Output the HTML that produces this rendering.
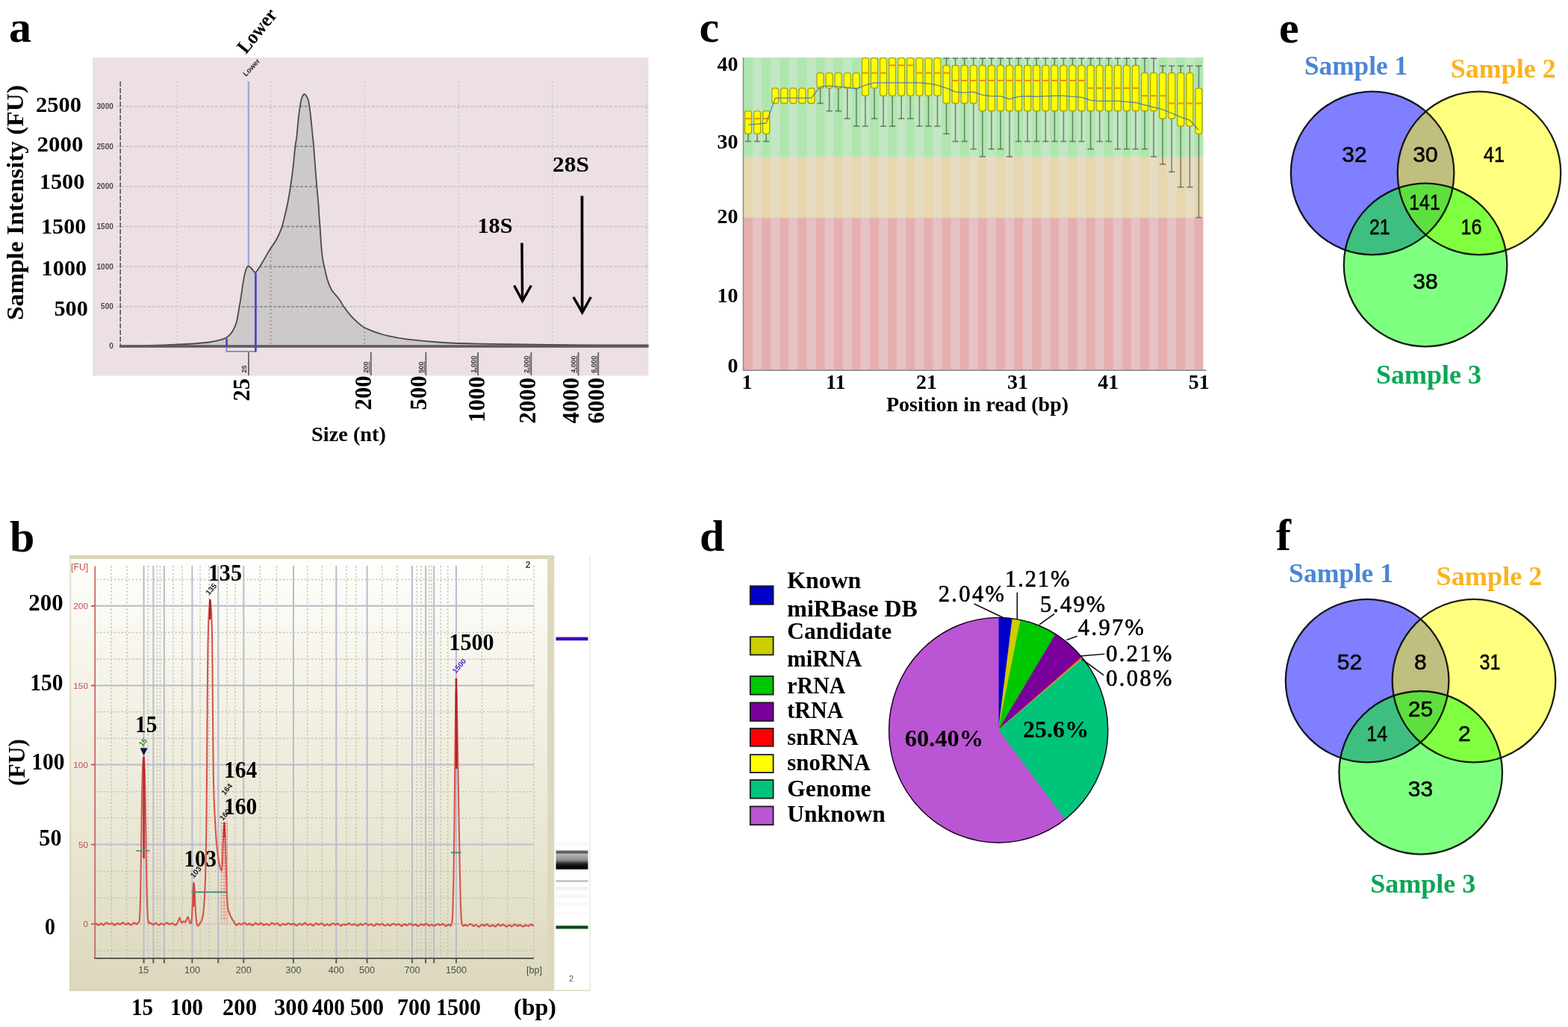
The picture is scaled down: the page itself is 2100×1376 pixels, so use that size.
<!DOCTYPE html>
<html lang="en">
<head>
<meta charset="utf-8">
<title>Figure</title>
<style>
html,body{margin:0;padding:0;background:#fff;}
body{width:2100px;height:1376px;overflow:hidden;}
svg{display:block;filter:blur(0.4px);}
text{white-space:pre;}
</style>
</head>
<body>
<svg width="2100" height="1376" viewBox="0 0 2100 1376">
<rect x="0" y="0" width="2100" height="1376" fill="#ffffff"/>
<g id="panel-a">
<text x="12" y="56.2" font-family="'Liberation Serif', serif" font-size="60" fill="#000" font-weight="bold">a</text>
<rect x="124" y="77" width="744.5" height="426.5" fill="#ece0e2"/>
<line x1="156" y1="142.6" x2="868" y2="142.6" stroke="#cfc3c6" stroke-width="1.6" stroke-dasharray="4 2"/>
<line x1="156" y1="196.1" x2="868" y2="196.1" stroke="#cfc3c6" stroke-width="1.6" stroke-dasharray="4 2"/>
<line x1="156" y1="249.8" x2="868" y2="249.8" stroke="#cfc3c6" stroke-width="1.6" stroke-dasharray="4 2"/>
<line x1="156" y1="303.5" x2="868" y2="303.5" stroke="#cfc3c6" stroke-width="1.6" stroke-dasharray="4 2"/>
<line x1="156" y1="357.3" x2="868" y2="357.3" stroke="#cfc3c6" stroke-width="1.6" stroke-dasharray="4 2"/>
<line x1="156" y1="410.9" x2="868" y2="410.9" stroke="#cfc3c6" stroke-width="1.6" stroke-dasharray="4 2"/>
<line x1="237" y1="109" x2="237" y2="463" stroke="#d3c8cb" stroke-width="1.6" stroke-dasharray="2 3"/>
<line x1="362.6" y1="109" x2="362.6" y2="463" stroke="#d3c8cb" stroke-width="1.6" stroke-dasharray="2 3"/>
<line x1="488.3" y1="109" x2="488.3" y2="463" stroke="#d3c8cb" stroke-width="1.6" stroke-dasharray="2 3"/>
<line x1="614.3" y1="109" x2="614.3" y2="463" stroke="#d3c8cb" stroke-width="1.6" stroke-dasharray="2 3"/>
<line x1="739.8" y1="109" x2="739.8" y2="463" stroke="#d3c8cb" stroke-width="1.6" stroke-dasharray="2 3"/>
<line x1="866" y1="109" x2="866" y2="463" stroke="#d3c8cb" stroke-width="1.6" stroke-dasharray="2 3"/>
<line x1="161.2" y1="109" x2="161.2" y2="464" stroke="#5a5557" stroke-width="1.6" stroke-dasharray="7 2"/>
<path d="M161 463.6C167.5 463.5 186.83 463.35 200 463C213.17 462.65 229.17 462 240 461.5C250.83 461 258.33 460.5 265 460C271.67 459.5 275.67 459.1 280 458.5C284.33 457.9 287.55 457.22 291 456.4C294.45 455.58 298.17 454.63 300.7 453.6C303.23 452.57 304.35 451.92 306.2 450.2C308.05 448.48 310.07 446.3 311.8 443.3C313.53 440.3 315.23 437.03 316.6 432.2C317.97 427.37 318.97 420.05 320 414.3C321.03 408.55 321.87 403.68 322.8 397.7C323.73 391.72 324.57 384.27 325.6 378.4C326.63 372.53 327.85 366.18 329 362.5C330.15 358.82 331.17 356.72 332.5 356.3C333.83 355.88 335.52 358.58 337 360C338.48 361.42 339.98 364.63 341.4 364.8C342.82 364.97 343.77 363.33 345.5 361C347.23 358.67 349.13 355.27 351.8 350.8C354.47 346.33 358.5 339.03 361.5 334.2C364.5 329.37 367.27 326.4 369.8 321.8C372.33 317.2 374.83 311.73 376.7 306.6C378.57 301.47 379.53 296.93 381 291C382.47 285.07 384.15 277.87 385.5 271C386.85 264.13 387.93 257.58 389.1 249.8C390.27 242.02 391.47 233.15 392.5 224.3C393.53 215.45 394.48 203.6 395.3 196.7C396.12 189.8 396.6 189.82 397.4 182.9C398.2 175.98 399.1 163.35 400.1 155.2C401.1 147.05 402.25 138.83 403.4 134C404.55 129.17 405.82 127.03 407 126.2C408.18 125.37 409.45 127.38 410.5 129C411.55 130.62 412.38 131.53 413.3 135.9C414.22 140.27 415.08 147.37 416 155.2C416.92 163.03 418.1 175.98 418.8 182.9C419.5 189.82 419.63 189.8 420.2 196.7C420.77 203.6 421.52 215.45 422.2 224.3C422.88 233.15 423.6 241.75 424.3 249.8C425 257.85 425.87 265.9 426.4 272.6C426.93 279.3 427.13 284.8 427.5 290C427.87 295.2 428.2 298.05 428.6 303.8C429 309.55 429.35 317.6 429.9 324.5C430.45 331.4 431.1 339.45 431.9 345.2C432.7 350.95 433.55 353.93 434.7 359C435.85 364.07 437.2 370.65 438.8 375.6C440.4 380.55 441.77 384.55 444.3 388.7C446.83 392.85 451.23 396.7 454 400.5C456.77 404.3 458.13 407.6 460.9 411.5C463.67 415.4 466.68 419.75 470.6 423.9C474.52 428.05 479.8 433.17 484.4 436.4C489 439.63 492.22 441 498.2 443.3C504.18 445.6 512.33 448.32 520.3 450.2C528.27 452.08 533.72 453.13 546 454.6C558.28 456.07 578 457.98 594 459C610 460.02 618.03 460.2 642 460.7C665.97 461.2 700.05 461.7 737.8 462C775.55 462.3 846.72 462.42 868.5 462.5 L868.5 464 L161 464 Z" fill="#cdc8ca"/>
<clipPath id="ca"><path d="M161 463.6C167.5 463.5 186.83 463.35 200 463C213.17 462.65 229.17 462 240 461.5C250.83 461 258.33 460.5 265 460C271.67 459.5 275.67 459.1 280 458.5C284.33 457.9 287.55 457.22 291 456.4C294.45 455.58 298.17 454.63 300.7 453.6C303.23 452.57 304.35 451.92 306.2 450.2C308.05 448.48 310.07 446.3 311.8 443.3C313.53 440.3 315.23 437.03 316.6 432.2C317.97 427.37 318.97 420.05 320 414.3C321.03 408.55 321.87 403.68 322.8 397.7C323.73 391.72 324.57 384.27 325.6 378.4C326.63 372.53 327.85 366.18 329 362.5C330.15 358.82 331.17 356.72 332.5 356.3C333.83 355.88 335.52 358.58 337 360C338.48 361.42 339.98 364.63 341.4 364.8C342.82 364.97 343.77 363.33 345.5 361C347.23 358.67 349.13 355.27 351.8 350.8C354.47 346.33 358.5 339.03 361.5 334.2C364.5 329.37 367.27 326.4 369.8 321.8C372.33 317.2 374.83 311.73 376.7 306.6C378.57 301.47 379.53 296.93 381 291C382.47 285.07 384.15 277.87 385.5 271C386.85 264.13 387.93 257.58 389.1 249.8C390.27 242.02 391.47 233.15 392.5 224.3C393.53 215.45 394.48 203.6 395.3 196.7C396.12 189.8 396.6 189.82 397.4 182.9C398.2 175.98 399.1 163.35 400.1 155.2C401.1 147.05 402.25 138.83 403.4 134C404.55 129.17 405.82 127.03 407 126.2C408.18 125.37 409.45 127.38 410.5 129C411.55 130.62 412.38 131.53 413.3 135.9C414.22 140.27 415.08 147.37 416 155.2C416.92 163.03 418.1 175.98 418.8 182.9C419.5 189.82 419.63 189.8 420.2 196.7C420.77 203.6 421.52 215.45 422.2 224.3C422.88 233.15 423.6 241.75 424.3 249.8C425 257.85 425.87 265.9 426.4 272.6C426.93 279.3 427.13 284.8 427.5 290C427.87 295.2 428.2 298.05 428.6 303.8C429 309.55 429.35 317.6 429.9 324.5C430.45 331.4 431.1 339.45 431.9 345.2C432.7 350.95 433.55 353.93 434.7 359C435.85 364.07 437.2 370.65 438.8 375.6C440.4 380.55 441.77 384.55 444.3 388.7C446.83 392.85 451.23 396.7 454 400.5C456.77 404.3 458.13 407.6 460.9 411.5C463.67 415.4 466.68 419.75 470.6 423.9C474.52 428.05 479.8 433.17 484.4 436.4C489 439.63 492.22 441 498.2 443.3C504.18 445.6 512.33 448.32 520.3 450.2C528.27 452.08 533.72 453.13 546 454.6C558.28 456.07 578 457.98 594 459C610 460.02 618.03 460.2 642 460.7C665.97 461.2 700.05 461.7 737.8 462C775.55 462.3 846.72 462.42 868.5 462.5 L868.5 464 L161 464 Z"/></clipPath>
<g clip-path="url(#ca)">
<line x1="156" y1="142.6" x2="868" y2="142.6" stroke="#8f8a8c" stroke-width="1.8" stroke-dasharray="4 2"/>
<line x1="156" y1="196.1" x2="868" y2="196.1" stroke="#8f8a8c" stroke-width="1.8" stroke-dasharray="4 2"/>
<line x1="156" y1="249.8" x2="868" y2="249.8" stroke="#8f8a8c" stroke-width="1.8" stroke-dasharray="4 2"/>
<line x1="156" y1="303.5" x2="868" y2="303.5" stroke="#8f8a8c" stroke-width="1.8" stroke-dasharray="4 2"/>
<line x1="156" y1="357.3" x2="868" y2="357.3" stroke="#8f8a8c" stroke-width="1.8" stroke-dasharray="4 2"/>
<line x1="156" y1="410.9" x2="868" y2="410.9" stroke="#8f8a8c" stroke-width="1.8" stroke-dasharray="4 2"/>
<line x1="362.6" y1="109" x2="362.6" y2="463" stroke="#9a9597" stroke-width="1.8" stroke-dasharray="2 3"/>
<line x1="488.3" y1="109" x2="488.3" y2="463" stroke="#9a9597" stroke-width="1.8" stroke-dasharray="2 3"/>
</g>
<path d="M161 463.6C167.5 463.5 186.83 463.35 200 463C213.17 462.65 229.17 462 240 461.5C250.83 461 258.33 460.5 265 460C271.67 459.5 275.67 459.1 280 458.5C284.33 457.9 287.55 457.22 291 456.4C294.45 455.58 298.17 454.63 300.7 453.6C303.23 452.57 304.35 451.92 306.2 450.2C308.05 448.48 310.07 446.3 311.8 443.3C313.53 440.3 315.23 437.03 316.6 432.2C317.97 427.37 318.97 420.05 320 414.3C321.03 408.55 321.87 403.68 322.8 397.7C323.73 391.72 324.57 384.27 325.6 378.4C326.63 372.53 327.85 366.18 329 362.5C330.15 358.82 331.17 356.72 332.5 356.3C333.83 355.88 335.52 358.58 337 360C338.48 361.42 339.98 364.63 341.4 364.8C342.82 364.97 343.77 363.33 345.5 361C347.23 358.67 349.13 355.27 351.8 350.8C354.47 346.33 358.5 339.03 361.5 334.2C364.5 329.37 367.27 326.4 369.8 321.8C372.33 317.2 374.83 311.73 376.7 306.6C378.57 301.47 379.53 296.93 381 291C382.47 285.07 384.15 277.87 385.5 271C386.85 264.13 387.93 257.58 389.1 249.8C390.27 242.02 391.47 233.15 392.5 224.3C393.53 215.45 394.48 203.6 395.3 196.7C396.12 189.8 396.6 189.82 397.4 182.9C398.2 175.98 399.1 163.35 400.1 155.2C401.1 147.05 402.25 138.83 403.4 134C404.55 129.17 405.82 127.03 407 126.2C408.18 125.37 409.45 127.38 410.5 129C411.55 130.62 412.38 131.53 413.3 135.9C414.22 140.27 415.08 147.37 416 155.2C416.92 163.03 418.1 175.98 418.8 182.9C419.5 189.82 419.63 189.8 420.2 196.7C420.77 203.6 421.52 215.45 422.2 224.3C422.88 233.15 423.6 241.75 424.3 249.8C425 257.85 425.87 265.9 426.4 272.6C426.93 279.3 427.13 284.8 427.5 290C427.87 295.2 428.2 298.05 428.6 303.8C429 309.55 429.35 317.6 429.9 324.5C430.45 331.4 431.1 339.45 431.9 345.2C432.7 350.95 433.55 353.93 434.7 359C435.85 364.07 437.2 370.65 438.8 375.6C440.4 380.55 441.77 384.55 444.3 388.7C446.83 392.85 451.23 396.7 454 400.5C456.77 404.3 458.13 407.6 460.9 411.5C463.67 415.4 466.68 419.75 470.6 423.9C474.52 428.05 479.8 433.17 484.4 436.4C489 439.63 492.22 441 498.2 443.3C504.18 445.6 512.33 448.32 520.3 450.2C528.27 452.08 533.72 453.13 546 454.6C558.28 456.07 578 457.98 594 459C610 460.02 618.03 460.2 642 460.7C665.97 461.2 700.05 461.7 737.8 462C775.55 462.3 846.72 462.42 868.5 462.5" fill="none" stroke="#4c4a4b" stroke-width="1.8" stroke-linejoin="round"/>
<line x1="160" y1="464" x2="868.5" y2="464" stroke="#5d5859" stroke-width="3.4"/>
<line x1="332.9" y1="109" x2="332.9" y2="356" stroke="#a3a4dd" stroke-width="2.4"/>
<path d="M303.4 453.5 V470.8 H342.4" fill="none" stroke="#7e80d6" stroke-width="1.8"/>
<line x1="303.6" y1="453.5" x2="303.6" y2="465" stroke="#4b4bbd" stroke-width="2.6"/>
<line x1="342.4" y1="365.5" x2="342.4" y2="471.5" stroke="#4b4bbd" stroke-width="2.8"/>
<line x1="332.9" y1="472" x2="332.9" y2="503" stroke="#5e5a5b" stroke-width="1.7"/>
<text x="329.8" y="499.5" font-family="'Liberation Sans', sans-serif" font-size="9" fill="#3a3a3a" transform="rotate(-90 329.8 499.5)" font-weight="bold">25</text>
<line x1="496.8" y1="472" x2="496.8" y2="503" stroke="#5e5a5b" stroke-width="1.7"/>
<text x="493.2" y="499.8" font-family="'Liberation Sans', sans-serif" font-size="9.3" fill="#3a3a3a" transform="rotate(-90 493.2 499.8)" font-weight="bold" text-decoration="underline">200</text>
<line x1="570.4" y1="472" x2="570.4" y2="503" stroke="#5e5a5b" stroke-width="1.7"/>
<text x="566.8" y="499.8" font-family="'Liberation Sans', sans-serif" font-size="9.3" fill="#3a3a3a" transform="rotate(-90 566.8 499.8)" font-weight="bold" text-decoration="underline">500</text>
<line x1="640.2" y1="472" x2="640.2" y2="503" stroke="#5e5a5b" stroke-width="1.7"/>
<text x="636.6" y="499.8" font-family="'Liberation Sans', sans-serif" font-size="9.3" fill="#3a3a3a" transform="rotate(-90 636.6 499.8)" font-weight="bold" text-decoration="underline">1,000</text>
<line x1="711.4" y1="472" x2="711.4" y2="503" stroke="#5e5a5b" stroke-width="1.7"/>
<text x="707.8" y="499.8" font-family="'Liberation Sans', sans-serif" font-size="9.3" fill="#3a3a3a" transform="rotate(-90 707.8 499.8)" font-weight="bold" text-decoration="underline">2,000</text>
<line x1="774.6" y1="472" x2="774.6" y2="503" stroke="#5e5a5b" stroke-width="1.7"/>
<text x="771" y="499.8" font-family="'Liberation Sans', sans-serif" font-size="9.3" fill="#3a3a3a" transform="rotate(-90 771 499.8)" font-weight="bold" text-decoration="underline">4,000</text>
<line x1="801.3" y1="472" x2="801.3" y2="503" stroke="#5e5a5b" stroke-width="1.7"/>
<text x="797.7" y="499.8" font-family="'Liberation Sans', sans-serif" font-size="9.3" fill="#3a3a3a" transform="rotate(-90 797.7 499.8)" font-weight="bold" text-decoration="underline">6,000</text>
<text x="151.8" y="146" font-family="'Liberation Sans', sans-serif" font-size="10" fill="#3a3a3a" text-anchor="end" font-weight="bold" opacity="0.9">3000</text>
<text x="151.8" y="199.5" font-family="'Liberation Sans', sans-serif" font-size="10" fill="#3a3a3a" text-anchor="end" font-weight="bold" opacity="0.9">2500</text>
<text x="151.8" y="253.2" font-family="'Liberation Sans', sans-serif" font-size="10" fill="#3a3a3a" text-anchor="end" font-weight="bold" opacity="0.9">2000</text>
<text x="151.8" y="306.9" font-family="'Liberation Sans', sans-serif" font-size="10" fill="#3a3a3a" text-anchor="end" font-weight="bold" opacity="0.9">1500</text>
<text x="151.8" y="360.7" font-family="'Liberation Sans', sans-serif" font-size="10" fill="#3a3a3a" text-anchor="end" font-weight="bold" opacity="0.9">1000</text>
<text x="151.8" y="414.3" font-family="'Liberation Sans', sans-serif" font-size="10" fill="#3a3a3a" text-anchor="end" font-weight="bold" opacity="0.9">500</text>
<text x="151.8" y="467.4" font-family="'Liberation Sans', sans-serif" font-size="10" fill="#3a3a3a" text-anchor="end" font-weight="bold" opacity="0.9">0</text>
<text x="329.5" y="103" font-family="'Liberation Sans', sans-serif" font-size="9.6" fill="#222" transform="rotate(-47 329.5 103)" font-weight="bold">Lower</text>
<text x="48" y="149.9" font-family="'Liberation Serif', serif" font-size="29.5" fill="#000" textLength="61" lengthAdjust="spacingAndGlyphs" font-weight="bold">2500</text>
<text x="49.6" y="203.4" font-family="'Liberation Serif', serif" font-size="29.5" fill="#000" textLength="61.9" lengthAdjust="spacingAndGlyphs" font-weight="bold">2000</text>
<text x="52.8" y="253.1" font-family="'Liberation Serif', serif" font-size="29.5" fill="#000" textLength="60.5" lengthAdjust="spacingAndGlyphs" font-weight="bold">1500</text>
<text x="55" y="312.9" font-family="'Liberation Serif', serif" font-size="29.5" fill="#000" textLength="60.3" lengthAdjust="spacingAndGlyphs" font-weight="bold">1500</text>
<text x="55.6" y="369.1" font-family="'Liberation Serif', serif" font-size="29.5" fill="#000" textLength="60.6" lengthAdjust="spacingAndGlyphs" font-weight="bold">1000</text>
<text x="72.4" y="423.1" font-family="'Liberation Serif', serif" font-size="29.5" fill="#000" textLength="45.4" lengthAdjust="spacingAndGlyphs" font-weight="bold">500</text>
<text x="31" y="429" font-family="'Liberation Serif', serif" font-size="30.5" fill="#000" transform="rotate(-90 31 429)" textLength="315" lengthAdjust="spacingAndGlyphs" font-weight="bold">Sample Intensity (FU)</text>
<text x="329.5" y="73.2" font-family="'Liberation Serif', serif" font-size="26.6" fill="#000" transform="rotate(-51 329.5 73.2)" textLength="68" lengthAdjust="spacingAndGlyphs" font-weight="bold">Lower</text>
<text x="333.5" y="537.5" font-family="'Liberation Serif', serif" font-size="30.5" fill="#000" transform="rotate(-90 333.5 537.5)" font-weight="bold">25</text>
<text x="497" y="549.5" font-family="'Liberation Serif', serif" font-size="30.8" fill="#000" transform="rotate(-90 497 549.5)" font-weight="bold">200</text>
<text x="571" y="549.5" font-family="'Liberation Serif', serif" font-size="30.8" fill="#000" transform="rotate(-90 571 549.5)" font-weight="bold">500</text>
<text x="649" y="566" font-family="'Liberation Serif', serif" font-size="30.8" fill="#000" transform="rotate(-90 649 566)" font-weight="bold">1000</text>
<text x="716.5" y="567.5" font-family="'Liberation Serif', serif" font-size="30.8" fill="#000" transform="rotate(-90 716.5 567.5)" font-weight="bold">2000</text>
<text x="775" y="567.5" font-family="'Liberation Serif', serif" font-size="30.8" fill="#000" transform="rotate(-90 775 567.5)" font-weight="bold">4000</text>
<text x="808.5" y="567.5" font-family="'Liberation Serif', serif" font-size="30.8" fill="#000" transform="rotate(-90 808.5 567.5)" font-weight="bold">6000</text>
<text x="417" y="591" font-family="'Liberation Serif', serif" font-size="27.5" fill="#000" textLength="100" lengthAdjust="spacingAndGlyphs" font-weight="bold">Size (nt)</text>
<text x="639.5" y="311.5" font-family="'Liberation Serif', serif" font-size="28.5" fill="#000" textLength="47" lengthAdjust="spacingAndGlyphs" font-weight="bold">18S</text>
<text x="740" y="230" font-family="'Liberation Serif', serif" font-size="28.5" fill="#000" textLength="49" lengthAdjust="spacingAndGlyphs" font-weight="bold">28S</text>
<path d="M699 325.5 L699.6 401" stroke="#000" stroke-width="3.5" fill="none"/>
<path d="M688.6 382.5 L699.7 403.3 L711.4 382.5" stroke="#000" stroke-width="3.4" fill="none" stroke-linejoin="miter"/>
<path d="M779.5 262.5 L779.7 416" stroke="#000" stroke-width="3.7" fill="none"/>
<path d="M768 398 L779.8 418.8 L791.4 398" stroke="#000" stroke-width="3.5" fill="none" stroke-linejoin="miter"/>
</g>
<g id="panel-b">
<text x="13" y="738.5" font-family="'Liberation Serif', serif" font-size="60" fill="#000" font-weight="bold">b</text>
<defs><linearGradient id="bg" x1="0" y1="0" x2="0" y2="1"><stop offset="0" stop-color="#fefefc"/><stop offset="0.25" stop-color="#f6f4ea"/><stop offset="0.6" stop-color="#ebe8d6"/><stop offset="1" stop-color="#dcd8bd"/></linearGradient><linearGradient id="bgo" x1="0" y1="0" x2="0" y2="1"><stop offset="0" stop-color="#f6f4e8"/><stop offset="0.5" stop-color="#e8e4cf"/><stop offset="1" stop-color="#d9d5ba"/></linearGradient><linearGradient id="gel" x1="0" y1="0" x2="0" y2="1"><stop offset="0" stop-color="#6a6a6a"/><stop offset="0.12" stop-color="#5c5c5c"/><stop offset="0.2" stop-color="#b4b4b4"/><stop offset="0.5" stop-color="#8e8e8e"/><stop offset="0.72" stop-color="#1c1c1c"/><stop offset="0.92" stop-color="#000"/><stop offset="1" stop-color="#555"/></linearGradient></defs>
<rect x="93" y="744" width="649.5" height="584" fill="url(#bgo)"/>
<rect x="96" y="749" width="637.2" height="579" fill="url(#bg)"/>
<rect x="93" y="744" width="649.5" height="5" fill="#d9d3b3"/>
<rect x="733.2" y="744" width="9.3" height="584" fill="#ddd8bd"/>
<rect x="93" y="744" width="1.5" height="584" fill="#ddd8c0" opacity="0.7"/>
<rect x="742.5" y="744" width="47.5" height="582" fill="#ffffff"/>
<line x1="790" y1="744" x2="790" y2="1328" stroke="#e6e2d0" stroke-width="1.2"/>
<line x1="742.5" y1="1327" x2="790.5" y2="1327" stroke="#e6e2d0" stroke-width="2"/>
<rect x="744.5" y="853.6" width="43" height="4.6" fill="#3a0ac0"/>
<rect x="744.5" y="1139.5" width="43" height="25.5" fill="url(#gel)"/>
<rect x="744.5" y="1179" width="43" height="3" fill="#c9c9c9"/>
<rect x="744.5" y="1188" width="43" height="5" fill="#d8d8dc" opacity="0.35"/>
<rect x="744.5" y="1198" width="43" height="5" fill="#d8d8dc" opacity="0.25"/>
<rect x="744.5" y="1209" width="43" height="5" fill="#d8d8dc" opacity="0.15"/>
<rect x="744.5" y="1128" width="43" height="5" fill="#d8d8dc" opacity="0.12"/>
<rect x="744.5" y="1222" width="43" height="5" fill="#d8d8dc" opacity="0.1"/>
<rect x="744.5" y="1240.3" width="43" height="4.2" fill="#07481a"/>
<text x="765" y="1315" font-family="'Liberation Sans', sans-serif" font-size="11" fill="#555" text-anchor="middle">2</text>
<line x1="149" y1="758" x2="149" y2="1284" stroke="#c2c2b8" stroke-width="1.5" stroke-dasharray="2.2 2.6"/>
<line x1="170" y1="758" x2="170" y2="1284" stroke="#c2c2b8" stroke-width="1.5" stroke-dasharray="2.2 2.6"/>
<line x1="198.3" y1="758" x2="198.3" y2="1284" stroke="#c2c2b8" stroke-width="1.5" stroke-dasharray="2.2 2.6"/>
<line x1="210.4" y1="758" x2="210.4" y2="1284" stroke="#c2c2b8" stroke-width="1.5" stroke-dasharray="2.2 2.6"/>
<line x1="214.4" y1="758" x2="214.4" y2="1284" stroke="#c2c2b8" stroke-width="1.5" stroke-dasharray="2.2 2.6"/>
<line x1="232" y1="758" x2="232" y2="1284" stroke="#c2c2b8" stroke-width="1.5" stroke-dasharray="2.2 2.6"/>
<line x1="244" y1="758" x2="244" y2="1284" stroke="#c2c2b8" stroke-width="1.5" stroke-dasharray="2.2 2.6"/>
<line x1="268" y1="758" x2="268" y2="1284" stroke="#c2c2b8" stroke-width="1.5" stroke-dasharray="2.2 2.6"/>
<line x1="280" y1="758" x2="280" y2="1284" stroke="#c2c2b8" stroke-width="1.5" stroke-dasharray="2.2 2.6"/>
<line x1="304" y1="758" x2="304" y2="1284" stroke="#c2c2b8" stroke-width="1.5" stroke-dasharray="2.2 2.6"/>
<line x1="315" y1="758" x2="315" y2="1284" stroke="#c2c2b8" stroke-width="1.5" stroke-dasharray="2.2 2.6"/>
<line x1="348.3" y1="758" x2="348.3" y2="1284" stroke="#c2c2b8" stroke-width="1.5" stroke-dasharray="2.2 2.6"/>
<line x1="370.4" y1="758" x2="370.4" y2="1284" stroke="#c2c2b8" stroke-width="1.5" stroke-dasharray="2.2 2.6"/>
<line x1="411.7" y1="758" x2="411.7" y2="1284" stroke="#c2c2b8" stroke-width="1.5" stroke-dasharray="2.2 2.6"/>
<line x1="431.2" y1="758" x2="431.2" y2="1284" stroke="#c2c2b8" stroke-width="1.5" stroke-dasharray="2.2 2.6"/>
<line x1="464" y1="758" x2="464" y2="1284" stroke="#c2c2b8" stroke-width="1.5" stroke-dasharray="2.2 2.6"/>
<line x1="477" y1="758" x2="477" y2="1284" stroke="#c2c2b8" stroke-width="1.5" stroke-dasharray="2.2 2.6"/>
<line x1="511.7" y1="758" x2="511.7" y2="1284" stroke="#c2c2b8" stroke-width="1.5" stroke-dasharray="2.2 2.6"/>
<line x1="531.9" y1="758" x2="531.9" y2="1284" stroke="#c2c2b8" stroke-width="1.5" stroke-dasharray="2.2 2.6"/>
<line x1="558.4" y1="758" x2="558.4" y2="1284" stroke="#c2c2b8" stroke-width="1.5" stroke-dasharray="2.2 2.6"/>
<line x1="564.1" y1="758" x2="564.1" y2="1284" stroke="#c2c2b8" stroke-width="1.5" stroke-dasharray="2.2 2.6"/>
<line x1="574.8" y1="758" x2="574.8" y2="1284" stroke="#c2c2b8" stroke-width="1.5" stroke-dasharray="2.2 2.6"/>
<line x1="578" y1="758" x2="578" y2="1284" stroke="#c2c2b8" stroke-width="1.5" stroke-dasharray="2.2 2.6"/>
<line x1="590.3" y1="758" x2="590.3" y2="1284" stroke="#c2c2b8" stroke-width="1.5" stroke-dasharray="2.2 2.6"/>
<line x1="599.7" y1="758" x2="599.7" y2="1284" stroke="#c2c2b8" stroke-width="1.5" stroke-dasharray="2.2 2.6"/>
<line x1="645.6" y1="758" x2="645.6" y2="1284" stroke="#c2c2b8" stroke-width="1.5" stroke-dasharray="2.2 2.6"/>
<line x1="679.8" y1="758" x2="679.8" y2="1284" stroke="#c2c2b8" stroke-width="1.5" stroke-dasharray="2.2 2.6"/>
<line x1="715" y1="758" x2="715" y2="1284" stroke="#c2c2b8" stroke-width="1.5" stroke-dasharray="2.2 2.6"/>
<line x1="129" y1="776.6" x2="715" y2="776.6" stroke="#c2c2b8" stroke-width="1.5" stroke-dasharray="2.2 2.6"/>
<line x1="129" y1="847.4" x2="715" y2="847.4" stroke="#c2c2b8" stroke-width="1.5" stroke-dasharray="2.2 2.6"/>
<line x1="129" y1="883.3" x2="715" y2="883.3" stroke="#c2c2b8" stroke-width="1.5" stroke-dasharray="2.2 2.6"/>
<line x1="129" y1="953.7" x2="715" y2="953.7" stroke="#c2c2b8" stroke-width="1.5" stroke-dasharray="2.2 2.6"/>
<line x1="129" y1="989.2" x2="715" y2="989.2" stroke="#c2c2b8" stroke-width="1.5" stroke-dasharray="2.2 2.6"/>
<line x1="129" y1="1060.7" x2="715" y2="1060.7" stroke="#c2c2b8" stroke-width="1.5" stroke-dasharray="2.2 2.6"/>
<line x1="129" y1="1095.9" x2="715" y2="1095.9" stroke="#c2c2b8" stroke-width="1.5" stroke-dasharray="2.2 2.6"/>
<line x1="129" y1="1167.5" x2="715" y2="1167.5" stroke="#c2c2b8" stroke-width="1.5" stroke-dasharray="2.2 2.6"/>
<line x1="129" y1="1203" x2="715" y2="1203" stroke="#c2c2b8" stroke-width="1.5" stroke-dasharray="2.2 2.6"/>
<line x1="129" y1="1274" x2="715" y2="1274" stroke="#c2c2b8" stroke-width="1.5" stroke-dasharray="2.2 2.6"/>
<line x1="192.6" y1="758" x2="192.6" y2="1290" stroke="#b7bdcb" stroke-width="2"/>
<line x1="205.4" y1="758" x2="205.4" y2="1290" stroke="#b7bdcb" stroke-width="2"/>
<line x1="219.9" y1="758" x2="219.9" y2="1290" stroke="#b7bdcb" stroke-width="2"/>
<line x1="257.4" y1="758" x2="257.4" y2="1290" stroke="#b7bdcb" stroke-width="2"/>
<line x1="292.3" y1="758" x2="292.3" y2="1290" stroke="#b7bdcb" stroke-width="2"/>
<line x1="326.3" y1="758" x2="326.3" y2="1290" stroke="#b7bdcb" stroke-width="2"/>
<line x1="393" y1="758" x2="393" y2="1290" stroke="#b7bdcb" stroke-width="2"/>
<line x1="450.3" y1="758" x2="450.3" y2="1290" stroke="#b7bdcb" stroke-width="2"/>
<line x1="491.6" y1="758" x2="491.6" y2="1290" stroke="#b7bdcb" stroke-width="2"/>
<line x1="552" y1="758" x2="552" y2="1290" stroke="#b7bdcb" stroke-width="2"/>
<line x1="570.1" y1="758" x2="570.1" y2="1290" stroke="#b7bdcb" stroke-width="2"/>
<line x1="581.2" y1="758" x2="581.2" y2="1290" stroke="#b7bdcb" stroke-width="2"/>
<line x1="611" y1="758" x2="611" y2="1290" stroke="#b7bdcb" stroke-width="2"/>
<line x1="122" y1="811.8" x2="715" y2="811.8" stroke="#b7bdcb" stroke-width="2"/>
<line x1="122" y1="918.5" x2="715" y2="918.5" stroke="#b7bdcb" stroke-width="2"/>
<line x1="122" y1="1024.4" x2="715" y2="1024.4" stroke="#b7bdcb" stroke-width="2"/>
<line x1="122" y1="1131.5" x2="715" y2="1131.5" stroke="#b7bdcb" stroke-width="2"/>
<line x1="122" y1="1238" x2="715" y2="1238" stroke="#c9b9b4" stroke-width="1.4" stroke-dasharray="3 2"/>
<line x1="127.2" y1="758.5" x2="127.2" y2="1284" stroke="#c46a64" stroke-width="1.8"/>
<line x1="126.4" y1="1284" x2="715" y2="1284" stroke="#5a5a55" stroke-width="1.8"/>
<line x1="192.6" y1="1284" x2="192.6" y2="1290.5" stroke="#55554f" stroke-width="1.8"/>
<line x1="205.4" y1="1284" x2="205.4" y2="1290.5" stroke="#55554f" stroke-width="1.8"/>
<line x1="219.9" y1="1284" x2="219.9" y2="1290.5" stroke="#55554f" stroke-width="1.8"/>
<line x1="257.4" y1="1284" x2="257.4" y2="1290.5" stroke="#55554f" stroke-width="1.8"/>
<line x1="292.3" y1="1284" x2="292.3" y2="1290.5" stroke="#55554f" stroke-width="1.8"/>
<line x1="326.3" y1="1284" x2="326.3" y2="1290.5" stroke="#55554f" stroke-width="1.8"/>
<line x1="393" y1="1284" x2="393" y2="1290.5" stroke="#55554f" stroke-width="1.8"/>
<line x1="450.3" y1="1284" x2="450.3" y2="1290.5" stroke="#55554f" stroke-width="1.8"/>
<line x1="491.6" y1="1284" x2="491.6" y2="1290.5" stroke="#55554f" stroke-width="1.8"/>
<line x1="552" y1="1284" x2="552" y2="1290.5" stroke="#55554f" stroke-width="1.8"/>
<line x1="570.1" y1="1284" x2="570.1" y2="1290.5" stroke="#55554f" stroke-width="1.8"/>
<line x1="581.2" y1="1284" x2="581.2" y2="1290.5" stroke="#55554f" stroke-width="1.8"/>
<line x1="611" y1="1284" x2="611" y2="1290.5" stroke="#55554f" stroke-width="1.8"/>
<line x1="122" y1="811.8" x2="127.2" y2="811.8" stroke="#c0504d" stroke-width="1.6"/>
<line x1="122" y1="918.5" x2="127.2" y2="918.5" stroke="#c0504d" stroke-width="1.6"/>
<line x1="122" y1="1024.4" x2="127.2" y2="1024.4" stroke="#c0504d" stroke-width="1.6"/>
<line x1="122" y1="1131.5" x2="127.2" y2="1131.5" stroke="#c0504d" stroke-width="1.6"/>
<line x1="122" y1="1238" x2="127.2" y2="1238" stroke="#c0504d" stroke-width="1.6"/>
<line x1="296.3" y1="1103" x2="304.6" y2="1103" stroke="#e9a39a" stroke-width="1.6"/>
<line x1="296.3" y1="1107.4" x2="304.6" y2="1107.4" stroke="#e9a39a" stroke-width="1.6"/>
<line x1="296.3" y1="1111.8" x2="304.6" y2="1111.8" stroke="#e9a39a" stroke-width="1.6"/>
<line x1="296.3" y1="1116.2" x2="304.6" y2="1116.2" stroke="#e9a39a" stroke-width="1.6"/>
<line x1="296.3" y1="1120.6" x2="304.6" y2="1120.6" stroke="#e9a39a" stroke-width="1.6"/>
<line x1="296.3" y1="1125" x2="304.6" y2="1125" stroke="#e9a39a" stroke-width="1.6"/>
<line x1="296.3" y1="1129.4" x2="304.6" y2="1129.4" stroke="#e9a39a" stroke-width="1.6"/>
<line x1="296.3" y1="1133.8" x2="304.6" y2="1133.8" stroke="#e9a39a" stroke-width="1.6"/>
<line x1="296.3" y1="1138.2" x2="304.6" y2="1138.2" stroke="#e9a39a" stroke-width="1.6"/>
<line x1="296.3" y1="1142.6" x2="304.6" y2="1142.6" stroke="#e9a39a" stroke-width="1.6"/>
<line x1="296.3" y1="1147" x2="304.6" y2="1147" stroke="#e9a39a" stroke-width="1.6"/>
<line x1="296.3" y1="1151.4" x2="304.6" y2="1151.4" stroke="#e9a39a" stroke-width="1.6"/>
<line x1="296.3" y1="1155.8" x2="304.6" y2="1155.8" stroke="#e9a39a" stroke-width="1.6"/>
<line x1="296.3" y1="1160.2" x2="304.6" y2="1160.2" stroke="#e9a39a" stroke-width="1.6"/>
<line x1="296.3" y1="1164.6" x2="304.6" y2="1164.6" stroke="#e9a39a" stroke-width="1.6"/>
<line x1="296.3" y1="1169" x2="304.6" y2="1169" stroke="#e9a39a" stroke-width="1.6"/>
<line x1="296.3" y1="1173.4" x2="304.6" y2="1173.4" stroke="#e9a39a" stroke-width="1.6"/>
<line x1="296.3" y1="1177.8" x2="304.6" y2="1177.8" stroke="#e9a39a" stroke-width="1.6"/>
<line x1="296.3" y1="1182.2" x2="304.6" y2="1182.2" stroke="#e9a39a" stroke-width="1.6"/>
<line x1="296.3" y1="1186.6" x2="304.6" y2="1186.6" stroke="#e9a39a" stroke-width="1.6"/>
<line x1="296.3" y1="1191" x2="304.6" y2="1191" stroke="#e9a39a" stroke-width="1.6"/>
<line x1="296.3" y1="1195.4" x2="304.6" y2="1195.4" stroke="#e9a39a" stroke-width="1.6"/>
<line x1="296.3" y1="1199.8" x2="304.6" y2="1199.8" stroke="#e9a39a" stroke-width="1.6"/>
<line x1="296.3" y1="1204.2" x2="304.6" y2="1204.2" stroke="#e9a39a" stroke-width="1.6"/>
<line x1="296.3" y1="1208.6" x2="304.6" y2="1208.6" stroke="#e9a39a" stroke-width="1.6"/>
<line x1="296.3" y1="1213" x2="304.6" y2="1213" stroke="#e9a39a" stroke-width="1.6"/>
<line x1="296.3" y1="1217.4" x2="304.6" y2="1217.4" stroke="#e9a39a" stroke-width="1.6"/>
<line x1="296.3" y1="1221.8" x2="304.6" y2="1221.8" stroke="#e9a39a" stroke-width="1.6"/>
<line x1="296.3" y1="1226.2" x2="304.6" y2="1226.2" stroke="#e9a39a" stroke-width="1.6"/>
<line x1="296.3" y1="1230.6" x2="304.6" y2="1230.6" stroke="#e9a39a" stroke-width="1.6"/>
<line x1="296.3" y1="1102" x2="296.3" y2="1238" stroke="#e08a80" stroke-width="1.1" stroke-dasharray="2 1.6"/>
<line x1="300.4" y1="1102" x2="300.4" y2="1238" stroke="#e08a80" stroke-width="1.1" stroke-dasharray="2 1.6"/>
<line x1="304.6" y1="1102" x2="304.6" y2="1238" stroke="#e08a80" stroke-width="1.1" stroke-dasharray="2 1.6"/>
<path d="M127.5 1236.89 L128 1236.95 L128.5 1236.9 L129 1237.83 L129.5 1238.28 L130 1238.67 L130.5 1239.48 L131 1239.35 L131.5 1239.28 L132 1238.97 L132.5 1239.44 L133 1238.85 L133.5 1238.68 L134 1237.57 L134.5 1237.46 L135 1238.06 L135.5 1237.12 L136 1237.34 L136.5 1237.96 L137 1238.32 L137.5 1239.09 L138 1239.41 L138.5 1238.88 L139 1239.22 L139.5 1238.77 L140 1238.28 L140.5 1238.02 L141 1237.08 L141.5 1236.72 L142 1236.05 L142.5 1236.33 L143 1236.32 L143.5 1236.75 L144 1236.95 L144.5 1237.59 L145 1238.16 L145.5 1237.67 L146 1237.81 L146.5 1237.96 L147 1237.93 L147.5 1238.08 L148 1237.86 L148.5 1237.51 L149 1237.55 L149.5 1236.75 L150 1237.25 L150.5 1237.05 L151 1237.94 L151.5 1237.79 L152 1238.36 L152.5 1239.64 L153 1239.65 L153.5 1238.97 L154 1239.31 L154.5 1238.48 L155 1238.7 L155.5 1238.59 L156 1237.58 L156.5 1237.08 L157 1237.43 L157.5 1237.6 L158 1237.46 L158.5 1237.02 L159 1237.54 L159.5 1238.51 L160 1238.58 L160.5 1238.82 L161 1238.79 L161.5 1237.76 L162 1238.06 L162.5 1237.21 L163 1236.89 L163.5 1236.79 L164 1235.97 L164.5 1236.54 L165 1236.1 L165.5 1236.95 L166 1237.03 L166.5 1237.72 L167 1238.1 L167.5 1237.72 L168 1238.13 L168.5 1238.72 L169 1238.01 L169.5 1238.5 L170 1238 L170.5 1237.2 L171 1237.18 L171.5 1237.63 L172 1236.71 L172.5 1237.72 L173 1237.98 L173.5 1237.83 L174 1238.72 L174.5 1239.11 L175 1239.58 L175.5 1239.63 L176 1238.99 L176.5 1239.06 L177 1238.26 L177.5 1238.02 L178 1237.45 L178.5 1236.51 L179 1236.75 L179.5 1236.54 L180 1236.3 L180.5 1237.23 L181 1237.56 L181.5 1237.07 L182 1237.44 L182.5 1238.21 L183 1238.3 L183.5 1237.57 L184 1237.09 L184.5 1237.51 L185 1236.32 L185.5 1236.04 L186 1235.59 L186.5 1233.9 L187 1231.26 L187.5 1222.24 L188 1205.41 L188.5 1179.1 L189 1144.87 L189.5 1106.69 L190 1072.03 L190.5 1047.04 L191 1031.26 L191.5 1022.12 L192 1016.1 L192.5 1016.04 L193 1018.57 L193.5 1026.37 L194 1039.58 L194.5 1062.72 L195 1092.93 L195.5 1127.43 L196 1161.15 L196.5 1189.06 L197 1210.34 L197.5 1223.2 L198 1231.14 L198.5 1234.09 L199 1235.88 L199.5 1236.65 L200 1237.15 L200.5 1237 L201 1236.48 L201.5 1236.41 L202 1236.78 L202.5 1236.93 L203 1237.35 L203.5 1238.19 L204 1238.64 L204.5 1238.92 L205 1238.1 L205.5 1238.29 L206 1237.84 L206.5 1238.56 L207 1237.56 L207.5 1237.4 L208 1236.89 L208.5 1237.22 L209 1236.56 L209.5 1237.78 L210 1237.66 L210.5 1237.92 L211 1238.24 L211.5 1238.85 L212 1239.2 L212.5 1239.26 L213 1239.1 L213.5 1239.5 L214 1238.81 L214.5 1238.18 L215 1237.82 L215.5 1237.98 L216 1237.39 L216.5 1237.27 L217 1237.69 L217.5 1237.87 L218 1238.43 L218.5 1238.52 L219 1238.73 L219.5 1239.4 L220 1238.76 L220.5 1238.16 L221 1237.92 L221.5 1237.61 L222 1237.48 L222.5 1236.67 L223 1236.5 L223.5 1236.47 L224 1236.06 L224.5 1237.05 L225 1236.67 L225.5 1237.84 L226 1237.64 L226.5 1238.13 L227 1238.63 L227.5 1238.21 L228 1238.34 L228.5 1238.01 L229 1237.38 L229.5 1237.78 L230 1237.78 L230.5 1237.32 L231 1236.92 L231.5 1237.6 L232 1237.95 L232.5 1237.58 L233 1238.3 L233.5 1238.96 L234 1238.8 L234.5 1239.57 L235 1239.19 L235.5 1239.48 L236 1238.89 L236.5 1238.05 L237 1237.47 L237.5 1236.64 L238 1235.95 L238.5 1234.21 L239 1233.12 L239.5 1232.09 L240 1230.58 L240.5 1229.72 L241 1230.17 L241.5 1231.67 L242 1233.03 L242.5 1235.19 L243 1236.27 L243.5 1236.27 L244 1236.16 L244.5 1235.72 L245 1235.1 L245.5 1234.61 L246 1234.68 L246.5 1234.97 L247 1234.67 L247.5 1234.88 L248 1235.47 L248.5 1235.48 L249 1234.67 L249.5 1232.77 L250 1232.48 L250.5 1230.43 L251 1229.14 L251.5 1228.72 L252 1228.52 L252.5 1230.75 L253 1232.35 L253.5 1233.9 L254 1235.97 L254.5 1236.13 L255 1237.11 L255.5 1237.27 L256 1236.95 L256.5 1233.78 L257 1229.26 L257.5 1220.15 L258 1208.63 L258.5 1196.64 L259 1187.36 L259.5 1184.16 L260 1185.39 L260.5 1191.41 L261 1201.29 L261.5 1212.62 L262 1221.5 L262.5 1228.32 L263 1233.94 L263.5 1237.32 L264 1239.1 L264.5 1239.52 L265 1240.35 L265.5 1240.32 L266 1239.72 L266.5 1239.2 L267 1237.94 L267.5 1237.11 L268 1237.45 L268.5 1235.89 L269 1235.32 L269.5 1234.97 L270 1233.69 L270.5 1232.13 L271 1229.95 L271.5 1228.09 L272 1225.28 L272.5 1220.97 L273 1215.73 L273.5 1208.97 L274 1201.33 L274.5 1190.48 L275 1177.86 L275.5 1158.9 L276 1134.67 L276.5 1099.26 L277 1041.06 L277.5 970.46 L278 903.67 L278.5 862.53 L279 841.31 L279.5 827.93 L280 818.58 L280.5 811.78 L281 806.36 L281.5 804.95 L282 807.41 L282.5 813.28 L283 820.85 L283.5 831.08 L284 849.91 L284.5 893.51 L285 956.05 L285.5 1012.27 L286 1048.18 L286.5 1065.31 L287 1080.41 L287.5 1091.22 L288 1098.96 L288.5 1107.86 L289 1116.09 L289.5 1123.71 L290 1129.95 L290.5 1134.76 L291 1138.66 L291.5 1142.26 L292 1146.67 L292.5 1150.11 L293 1154.44 L293.5 1157.13 L294 1159.02 L294.5 1161.31 L295 1162.72 L295.5 1164.3 L296 1165.57 L296.5 1166.11 L297 1165.27 L297.5 1161 L298 1150.81 L298.5 1136.7 L299 1123.65 L299.5 1114.18 L300 1107.8 L300.5 1106.42 L301 1110.02 L301.5 1119.53 L302 1133.21 L302.5 1150.95 L303 1170.29 L303.5 1187.46 L304 1201.55 L304.5 1209.02 L305 1214.89 L305.5 1218.14 L306 1219.54 L306.5 1221.45 L307 1222.96 L307.5 1223.87 L308 1225.79 L308.5 1226.6 L309 1228.1 L309.5 1228.73 L310 1229.72 L310.5 1231.15 L311 1231.53 L311.5 1232.57 L312 1233.04 L312.5 1233.6 L313 1234.44 L313.5 1235.77 L314 1236.7 L314.5 1237.61 L315 1237.87 L315.5 1238.13 L316 1239.4 L316.5 1238.94 L317 1239.7 L317.5 1239.23 L318 1238.75 L318.5 1237.81 L319 1237.83 L319.5 1237.57 L320 1237.21 L320.5 1237.85 L321 1237.4 L321.5 1238.34 L322 1238.23 L322.5 1238.75 L323 1238.94 L323.5 1238.56 L324 1238.48 L324.5 1238.22 L325 1237.77 L325.5 1237.22 L326 1237.24 L326.5 1236.93 L327 1236.38 L327.5 1236.46 L328 1236.84 L328.5 1236.89 L329 1237.62 L329.5 1237.84 L330 1238.91 L330.5 1238.64 L331 1238.68 L331.5 1238.53 L332 1238.96 L332.5 1238.68 L333 1237.71 L333.5 1238.2 L334 1237.2 L334.5 1237.3 L335 1238.24 L335.5 1238.4 L336 1238.26 L336.5 1239.16 L337 1239.7 L337.5 1239.18 L338 1239.72 L338.5 1239.25 L339 1239.7 L339.5 1239.01 L340 1238.23 L340.5 1238.46 L341 1237.83 L341.5 1237.02 L342 1236.63 L342.5 1236.6 L343 1237.7 L343.5 1237.57 L344 1237.64 L344.5 1238.22 L345 1238.24 L345.5 1238.85 L346 1238.89 L346.5 1238.63 L347 1238.38 L347.5 1237.46 L348 1237.15 L348.5 1236.84 L349 1237.19 L349.5 1237.22 L350 1237.44 L350.5 1237.16 L351 1237.48 L351.5 1238.05 L352 1239.39 L352.5 1239.75 L353 1238.97 L353.5 1239.49 L354 1238.99 L354.5 1239.17 L355 1238.67 L355.5 1238.28 L356 1238.11 L356.5 1237.8 L357 1238.45 L357.5 1237.89 L358 1238.03 L358.5 1239.08 L359 1239.13 L359.5 1239.08 L360 1239.56 L360.5 1239.73 L361 1239.54 L361.5 1238.79 L362 1238.85 L362.5 1237.41 L363 1237.06 L363.5 1236.82 L364 1236.48 L364.5 1236.72 L365 1237.14 L365.5 1237.23 L366 1237.71 L366.5 1237.58 L367 1238.07 L367.5 1238.84 L368 1238.18 L368.5 1238.24 L369 1237.96 L369.5 1237.61 L370 1237.73 L370.5 1236.95 L371 1236.84 L371.5 1237.07 L372 1237.2 L372.5 1237.56 L373 1238.4 L373.5 1238.55 L374 1239.71 L374.5 1239.77 L375 1239.83 L375.5 1240.33 L376 1239.79 L376.5 1239.18 L377 1238.81 L377.5 1238.82 L378 1237.71 L378.5 1237.77 L379 1238.04 L379.5 1237.77 L380 1238.07 L380.5 1238.4 L381 1238.87 L381.5 1238.48 L382 1239.02 L382.5 1238.95 L383 1238.72 L383.5 1238.17 L384 1238.76 L384.5 1237.66 L385 1237.08 L385.5 1237.25 L386 1236.9 L386.5 1237.26 L387 1237.28 L387.5 1237.4 L388 1238.11 L388.5 1238.39 L389 1238.09 L389.5 1238.76 L390 1238.94 L390.5 1238.43 L391 1238.69 L391.5 1237.97 L392 1238.04 L392.5 1237.59 L393 1238.2 L393.5 1237.61 L394 1237.57 L394.5 1238.61 L395 1238.07 L395.5 1239.34 L396 1239.44 L396.5 1240.11 L397 1239.96 L397.5 1239.86 L398 1240.29 L398.5 1239.02 L399 1239.15 L399.5 1238.58 L400 1238.07 L400.5 1238 L401 1237.9 L401.5 1237.5 L402 1237.74 L402.5 1238.29 L403 1238.13 L403.5 1238.87 L404 1239.39 L404.5 1239.22 L405 1239.35 L405.5 1239 L406 1238.01 L406.5 1237.98 L407 1237.03 L407.5 1236.85 L408 1237.4 L408.5 1236.38 L409 1236.59 L409.5 1237.85 L410 1237.4 L410.5 1238.39 L411 1238.8 L411.5 1238.64 L412 1239.64 L412.5 1239.39 L413 1238.84 L413.5 1238.83 L414 1238.79 L414.5 1237.94 L415 1237.87 L415.5 1237.98 L416 1238.53 L416.5 1238.17 L417 1238.66 L417.5 1239.32 L418 1239.88 L418.5 1239.69 L419 1240.33 L419.5 1240.02 L420 1239.62 L420.5 1239.53 L421 1239.3 L421.5 1238.46 L422 1238.16 L422.5 1237.39 L423 1237.41 L423.5 1236.84 L424 1236.99 L424.5 1237.45 L425 1238.3 L425.5 1238.77 L426 1238.23 L426.5 1238.52 L427 1238.72 L427.5 1238.87 L428 1238.7 L428.5 1237.92 L429 1237.68 L429.5 1237.34 L430 1237.1 L430.5 1236.94 L431 1237.68 L431.5 1237.93 L432 1237.59 L432.5 1238.15 L433 1238.69 L433.5 1239.99 L434 1240.24 L434.5 1240.11 L435 1239.87 L435.5 1239.43 L436 1239.65 L436.5 1238.83 L437 1239.01 L437.5 1238.77 L438 1238.06 L438.5 1238.27 L439 1238.4 L439.5 1238.99 L440 1239.22 L440.5 1239.82 L441 1239.88 L441.5 1239.51 L442 1239.29 L442.5 1239.81 L443 1239.35 L443.5 1238.12 L444 1237.83 L444.5 1237.26 L445 1237.58 L445.5 1237.24 L446 1237.49 L446.5 1237.14 L447 1237.96 L447.5 1238.04 L448 1238.05 L448.5 1239.04 L449 1238.94 L449.5 1238.71 L450 1238.36 L450.5 1238.61 L451 1238.36 L451.5 1238.35 L452 1237.31 L452.5 1238.09 L453 1238.18 L453.5 1237.93 L454 1238.42 L454.5 1238.68 L455 1239.58 L455.5 1239.49 L456 1240.53 L456.5 1240.5 L457 1239.96 L457.5 1240.35 L458 1239.75 L458.5 1238.89 L459 1238.52 L459.5 1238.64 L460 1238.61 L460.5 1238.35 L461 1238.08 L461.5 1238.7 L462 1239.27 L462.5 1238.94 L463 1239.32 L463.5 1239.05 L464 1238.96 L464.5 1238.77 L465 1238.91 L465.5 1238.07 L466 1238.14 L466.5 1237.72 L467 1237.34 L467.5 1236.65 L468 1236.76 L468.5 1237.68 L469 1237.93 L469.5 1238.37 L470 1238.81 L470.5 1239.14 L471 1239.39 L471.5 1239.68 L472 1239.21 L472.5 1238.75 L473 1238.74 L473.5 1238.12 L474 1238.17 L474.5 1238.46 L475 1237.86 L475.5 1237.92 L476 1238.88 L476.5 1239.58 L477 1239.5 L477.5 1239.88 L478 1240.14 L478.5 1239.84 L479 1240.12 L479.5 1239.72 L480 1240.14 L480.5 1239.17 L481 1238.45 L481.5 1238.8 L482 1238.52 L482.5 1237.71 L483 1237.58 L483.5 1238.64 L484 1238.34 L484.5 1239.17 L485 1238.8 L485.5 1239.07 L486 1239.53 L486.5 1239.42 L487 1238.56 L487.5 1238.44 L488 1237.77 L488.5 1237.78 L489 1237.56 L489.5 1236.76 L490 1237.13 L490.5 1237.56 L491 1237.89 L491.5 1238.17 L492 1238.67 L492.5 1238.89 L493 1239.74 L493.5 1239.46 L494 1239.61 L494.5 1239.25 L495 1239.02 L495.5 1238.67 L496 1238.32 L496.5 1238.04 L497 1238.31 L497.5 1238.51 L498 1238.55 L498.5 1238.79 L499 1239.59 L499.5 1239.96 L500 1240.53 L500.5 1240.03 L501 1239.72 L501.5 1240.15 L502 1240 L502.5 1239.49 L503 1238.76 L503.5 1238.45 L504 1237.39 L504.5 1238.18 L505 1237.91 L505.5 1238.27 L506 1237.98 L506.5 1238.18 L507 1239.15 L507.5 1239.53 L508 1239.24 L508.5 1239.08 L509 1238.56 L509.5 1239.2 L510 1238.77 L510.5 1238.34 L511 1238.03 L511.5 1237.88 L512 1237.4 L512.5 1237.75 L513 1238.51 L513.5 1239.02 L514 1239.42 L514.5 1240.01 L515 1239.74 L515.5 1240.42 L516 1240.2 L516.5 1239.76 L517 1239.84 L517.5 1239.72 L518 1238.69 L518.5 1238.37 L519 1238.8 L519.5 1238.55 L520 1238.24 L520.5 1239 L521 1239.61 L521.5 1240.12 L522 1239.44 L522.5 1239.74 L523 1240.17 L523.5 1239.84 L524 1239.51 L524.5 1239.31 L525 1238.05 L525.5 1237.94 L526 1238.02 L526.5 1238.05 L527 1237.53 L527.5 1237.78 L528 1237.61 L528.5 1238.08 L529 1238.59 L529.5 1239.42 L530 1239.66 L530.5 1239.57 L531 1239.56 L531.5 1238.71 L532 1238.79 L532.5 1238.35 L533 1237.7 L533.5 1238.31 L534 1238.02 L534.5 1238.59 L535 1238.25 L535.5 1239.5 L536 1239.11 L536.5 1239.55 L537 1239.95 L537.5 1240.96 L538 1240.81 L538.5 1240.19 L539 1240.56 L539.5 1239.76 L540 1239.35 L540.5 1238.45 L541 1238.56 L541.5 1238.14 L542 1238.75 L542.5 1238.4 L543 1239.07 L543.5 1238.85 L544 1240.01 L544.5 1239.41 L545 1240.11 L545.5 1239.63 L546 1239.37 L546.5 1239.37 L547 1238.19 L547.5 1238.3 L548 1237.93 L548.5 1237.96 L549 1237.67 L549.5 1237.64 L550 1237.68 L550.5 1238.47 L551 1238.58 L551.5 1239.62 L552 1239.64 L552.5 1239.76 L553 1239.24 L553.5 1239.26 L554 1239.2 L554.5 1239.59 L555 1238.91 L555.5 1238.35 L556 1238.78 L556.5 1238.51 L557 1238.86 L557.5 1239.7 L558 1239.09 L558.5 1239.73 L559 1240.72 L559.5 1240.51 L560 1240.91 L560.5 1240.68 L561 1240.21 L561.5 1240.05 L562 1239.53 L562.5 1239.02 L563 1238.37 L563.5 1238.58 L564 1238.59 L564.5 1238.12 L565 1238.78 L565.5 1238.43 L566 1239.15 L566.5 1239.22 L567 1239.76 L567.5 1239.2 L568 1239.8 L568.5 1239.43 L569 1239.09 L569.5 1238.06 L570 1237.69 L570.5 1238.03 L571 1237.74 L571.5 1237.41 L572 1237.97 L572.5 1238.93 L573 1239.28 L573.5 1239.83 L574 1240.27 L574.5 1240.23 L575 1240.68 L575.5 1239.69 L576 1240 L576.5 1239.61 L577 1239.14 L577.5 1238.74 L578 1238.52 L578.5 1238.96 L579 1239.15 L579.5 1239.34 L580 1240.12 L580.5 1240.1 L581 1240.11 L581.5 1240.04 L582 1240.3 L582.5 1240.32 L583 1240.09 L583.5 1240.3 L584 1239.47 L584.5 1238.97 L585 1238.23 L585.5 1238.53 L586 1238.12 L586.5 1238.05 L587 1237.96 L587.5 1238.24 L588 1238.82 L588.5 1239.62 L589 1239.19 L589.5 1239.13 L590 1239.43 L590.5 1239.42 L591 1238.95 L591.5 1238.98 L592 1238.05 L592.5 1237.53 L593 1237.97 L593.5 1237.86 L594 1238.01 L594.5 1239.11 L595 1238.8 L595.5 1239.64 L596 1240.53 L596.5 1240.95 L597 1240.92 L597.5 1240.52 L598 1240.18 L598.5 1240.25 L599 1239.24 L599.5 1239.49 L600 1239.12 L600.5 1239.35 L601 1238.47 L601.5 1239.53 L602 1238.99 L602.5 1239.71 L603 1240.01 L603.5 1240.24 L604 1240.41 L604.5 1238.82 L605 1237.08 L605.5 1235.11 L606 1228.07 L606.5 1216.25 L607 1196.13 L607.5 1174.03 L608 1143.97 L608.5 1105.35 L609 1057.12 L609.5 1003.85 L610 960.94 L610.5 928.6 L611 920.96 L611.5 928.13 L612 951.21 L612.5 977.48 L613 1007.44 L613.5 1036.78 L614 1065.4 L614.5 1092.84 L615 1120.55 L615.5 1148.56 L616 1174.18 L616.5 1195.69 L617 1214.23 L617.5 1225.95 L618 1233.36 L618.5 1237.12 L619 1238.9 L619.5 1239.92 L620 1240.74 L620.5 1240.38 L621 1240.47 L621.5 1239.84 L622 1239.73 L622.5 1239.17 L623 1239.73 L623.5 1239.13 L624 1239.9 L624.5 1239.33 L625 1240.01 L625.5 1240.41 L626 1240.6 L626.5 1240.36 L627 1240.11 L627.5 1239.72 L628 1239.3 L628.5 1239.12 L629 1238.16 L629.5 1238.02 L630 1237.85 L630.5 1238.36 L631 1238.55 L631.5 1238.76 L632 1238.84 L632.5 1239.71 L633 1240.11 L633.5 1240.49 L634 1240.12 L634.5 1240.71 L635 1240.81 L635.5 1239.82 L636 1239.33 L636.5 1239.24 L637 1239.22 L637.5 1239.03 L638 1239.65 L638.5 1239.62 L639 1240.57 L639.5 1240.95 L640 1241.01 L640.5 1241.26 L641 1241.53 L641.5 1241.87 L642 1240.98 L642.5 1240.8 L643 1240.65 L643.5 1240.1 L644 1239.58 L644.5 1239.43 L645 1239.45 L645.5 1238.55 L646 1238.65 L646.5 1239.24 L647 1239.34 L647.5 1240.11 L648 1239.91 L648.5 1240.61 L649 1239.96 L649.5 1239.92 L650 1239.22 L650.5 1239.68 L651 1238.55 L651.5 1238.97 L652 1238.37 L652.5 1237.96 L653 1239.17 L653.5 1239.27 L654 1239.68 L654.5 1240.15 L655 1240.89 L655.5 1240.35 L656 1240.64 L656.5 1241.11 L657 1241.01 L657.5 1240.51 L658 1240.76 L658.5 1240.46 L659 1239.29 L659.5 1239.79 L660 1239.62 L660.5 1239.34 L661 1239.6 L661.5 1240.51 L662 1241.16 L662.5 1241.36 L663 1240.85 L663.5 1240.87 L664 1241.43 L664.5 1240.39 L665 1240.45 L665.5 1239.82 L666 1239.67 L666.5 1238.55 L667 1238.21 L667.5 1239.01 L668 1238.68 L668.5 1239.41 L669 1239.02 L669.5 1240.26 L670 1240.49 L670.5 1240.01 L671 1240.48 L671.5 1239.73 L672 1239.51 L672.5 1239.34 L673 1239.61 L673.5 1238.73 L674 1238.31 L674.5 1238.83 L675 1239.4 L675.5 1239.58 L676 1239.94 L676.5 1240.02 L677 1241.04 L677.5 1241.45 L678 1241.63 L678.5 1241.23 L679 1240.98 L679.5 1241.16 L680 1240.5 L680.5 1239.88 L681 1239.86 L681.5 1240.02 L682 1239.86 L682.5 1239.27 L683 1239.76 L683.5 1240.47 L684 1240.42 L684.5 1241.29 L685 1240.51 L685.5 1241.12 L686 1240.88 L686.5 1240.57 L687 1240.66 L687.5 1239.58 L688 1239.44 L688.5 1239.09 L689 1238.26 L689.5 1238.95 L690 1238.86 L690.5 1238.63 L691 1239.55 L691.5 1239.93 L692 1240.02 L692.5 1240.69 L693 1240.07 L693.5 1239.95 L694 1240.8 L694.5 1240.08 L695 1239.46 L695.5 1239.57 L696 1238.8 L696.5 1239.2 L697 1239.66 L697.5 1239.54 L698 1239.85 L698.5 1240.62 L699 1240.77 L699.5 1241.03 L700 1241.56 L700.5 1241.65 L701 1241.18 L701.5 1241.08 L702 1240.87 L702.5 1239.97 L703 1240.38 L703.5 1239.41 L704 1239.88 L704.5 1239.39 L705 1239.91 L705.5 1239.94 L706 1239.89 L706.5 1240.17 L707 1240.38 L707.5 1241.06 L708 1240.71 L708.5 1240.76 L709 1240.02 L709.5 1239.66 L710 1239.71 L710.5 1238.74 L711 1238.36 L711.5 1238.44 L712 1238.23 L712.5 1239.25 L713 1239.68 L713.5 1240.29 L714 1240.23 L714.5 1240.66 L715 1240.89" fill="none" stroke="#d4554e" stroke-width="2.1" stroke-linejoin="round"/>
<line x1="192.6" y1="1013.5" x2="192.6" y2="1150" stroke="#b0202a" stroke-width="2.4"/>
<line x1="281.3" y1="803" x2="281.3" y2="830" stroke="#b0202a" stroke-width="2.6"/>
<line x1="611" y1="909" x2="611.3" y2="1030" stroke="#b0202a" stroke-width="2.6"/>
<line x1="300.4" y1="1101.5" x2="300.4" y2="1122" stroke="#c8262a" stroke-width="2.6"/>
<line x1="259.6" y1="1182" x2="259.6" y2="1215" stroke="#d03a38" stroke-width="2"/>
<line x1="182.2" y1="1140" x2="200.5" y2="1140" stroke="#5a9a8a" stroke-width="1.9"/>
<line x1="256.5" y1="1195.2" x2="304.2" y2="1195.2" stroke="#4a8a7c" stroke-width="2"/>
<line x1="604" y1="1142.3" x2="617.5" y2="1142.3" stroke="#4a8a6c" stroke-width="1.9"/>
<path d="M187.6 1002.3 H197.6 L192.6 1012.6 Z" fill="#14143c"/>
<text x="190.5" y="1001" font-family="'Liberation Sans', sans-serif" font-size="10" fill="#2f8f3a" transform="rotate(-50 190.5 1001)" font-weight="bold">15</text>
<text x="280" y="798" font-family="'Liberation Sans', sans-serif" font-size="10" fill="#1a1a1a" transform="rotate(-50 280 798)" font-weight="bold">135</text>
<text x="301" y="1066" font-family="'Liberation Sans', sans-serif" font-size="10" fill="#1a1a1a" transform="rotate(-50 301 1066)" font-weight="bold">164</text>
<text x="298.5" y="1100" font-family="'Liberation Sans', sans-serif" font-size="10" fill="#1a1a1a" transform="rotate(-50 298.5 1100)" font-weight="bold">160</text>
<text x="259.5" y="1177" font-family="'Liberation Sans', sans-serif" font-size="10" fill="#1a1a1a" transform="rotate(-50 259.5 1177)" font-weight="bold">103</text>
<text x="610.5" y="903" font-family="'Liberation Sans', sans-serif" font-size="10" fill="#5a2ad0" transform="rotate(-50 610.5 903)" font-weight="bold">1500</text>
<text x="95" y="764" font-family="'Liberation Sans', sans-serif" font-size="12.3" fill="#b8504a">[FU]</text>
<text x="118" y="816" font-family="'Liberation Sans', sans-serif" font-size="11.8" fill="#c0504d" text-anchor="end">200</text>
<text x="118" y="922.7" font-family="'Liberation Sans', sans-serif" font-size="11.8" fill="#c0504d" text-anchor="end">150</text>
<text x="118" y="1028.6" font-family="'Liberation Sans', sans-serif" font-size="11.8" fill="#c0504d" text-anchor="end">100</text>
<text x="118" y="1135.7" font-family="'Liberation Sans', sans-serif" font-size="11.8" fill="#c0504d" text-anchor="end">50</text>
<text x="118" y="1242.2" font-family="'Liberation Sans', sans-serif" font-size="11.8" fill="#c0504d" text-anchor="end">0</text>
<text x="192.3" y="1304.3" font-family="'Liberation Sans', sans-serif" font-size="12.6" fill="#4c4c48" text-anchor="middle">15</text>
<text x="257.5" y="1304.3" font-family="'Liberation Sans', sans-serif" font-size="12.6" fill="#4c4c48" text-anchor="middle">100</text>
<text x="326.3" y="1304.3" font-family="'Liberation Sans', sans-serif" font-size="12.6" fill="#4c4c48" text-anchor="middle">200</text>
<text x="393" y="1304.3" font-family="'Liberation Sans', sans-serif" font-size="12.6" fill="#4c4c48" text-anchor="middle">300</text>
<text x="450.3" y="1304.3" font-family="'Liberation Sans', sans-serif" font-size="12.6" fill="#4c4c48" text-anchor="middle">400</text>
<text x="491.6" y="1304.3" font-family="'Liberation Sans', sans-serif" font-size="12.6" fill="#4c4c48" text-anchor="middle">500</text>
<text x="552" y="1304.3" font-family="'Liberation Sans', sans-serif" font-size="12.6" fill="#4c4c48" text-anchor="middle">700</text>
<text x="611" y="1304.3" font-family="'Liberation Sans', sans-serif" font-size="12.6" fill="#4c4c48" text-anchor="middle">1500</text>
<text x="715.5" y="1304.3" font-family="'Liberation Sans', sans-serif" font-size="12.6" fill="#4c4c48" text-anchor="middle">[bp]</text>
<text x="707" y="761" font-family="'Liberation Sans', sans-serif" font-size="12" fill="#4a4a4a" text-anchor="middle" font-weight="bold">2</text>
<text x="38.3" y="818" font-family="'Liberation Serif', serif" font-size="31" fill="#000" textLength="46.3" lengthAdjust="spacingAndGlyphs" font-weight="bold">200</text>
<text x="40.3" y="924.7" font-family="'Liberation Serif', serif" font-size="31" fill="#000" textLength="44.3" lengthAdjust="spacingAndGlyphs" font-weight="bold">150</text>
<text x="42.3" y="1030.6" font-family="'Liberation Serif', serif" font-size="31" fill="#000" textLength="44.3" lengthAdjust="spacingAndGlyphs" font-weight="bold">100</text>
<text x="52.3" y="1133.2" font-family="'Liberation Serif', serif" font-size="31" fill="#000" textLength="30.2" lengthAdjust="spacingAndGlyphs" font-weight="bold">50</text>
<text x="60" y="1252.2" font-family="'Liberation Serif', serif" font-size="31" fill="#000" textLength="14" lengthAdjust="spacingAndGlyphs" font-weight="bold">0</text>
<text x="33" y="1053" font-family="'Liberation Serif', serif" font-size="31" fill="#000" transform="rotate(-90 33 1053)" textLength="63" lengthAdjust="spacingAndGlyphs" font-weight="bold">(FU)</text>
<text x="278.8" y="777.7" font-family="'Liberation Serif', serif" font-size="31" fill="#000" textLength="45.2" lengthAdjust="spacingAndGlyphs" font-weight="bold">135</text>
<text x="181" y="981.2" font-family="'Liberation Serif', serif" font-size="31" fill="#000" textLength="29.4" lengthAdjust="spacingAndGlyphs" font-weight="bold">15</text>
<text x="300" y="1041.7" font-family="'Liberation Serif', serif" font-size="31" fill="#000" textLength="44.3" lengthAdjust="spacingAndGlyphs" font-weight="bold">164</text>
<text x="300" y="1091" font-family="'Liberation Serif', serif" font-size="31" fill="#000" textLength="44.3" lengthAdjust="spacingAndGlyphs" font-weight="bold">160</text>
<text x="246.6" y="1160.5" font-family="'Liberation Serif', serif" font-size="31" fill="#000" textLength="43.4" lengthAdjust="spacingAndGlyphs" font-weight="bold">103</text>
<text x="601.3" y="871.2" font-family="'Liberation Serif', serif" font-size="31" fill="#000" textLength="60.4" lengthAdjust="spacingAndGlyphs" font-weight="bold">1500</text>
<text x="176" y="1359.5" font-family="'Liberation Serif', serif" font-size="31" fill="#000" textLength="29" lengthAdjust="spacingAndGlyphs" font-weight="bold">15</text>
<text x="228" y="1359.5" font-family="'Liberation Serif', serif" font-size="31" fill="#000" textLength="44" lengthAdjust="spacingAndGlyphs" font-weight="bold">100</text>
<text x="298" y="1359.5" font-family="'Liberation Serif', serif" font-size="31" fill="#000" textLength="46" lengthAdjust="spacingAndGlyphs" font-weight="bold">200</text>
<text x="367" y="1359.5" font-family="'Liberation Serif', serif" font-size="31" fill="#000" textLength="46" lengthAdjust="spacingAndGlyphs" font-weight="bold">300</text>
<text x="418" y="1359.5" font-family="'Liberation Serif', serif" font-size="31" fill="#000" textLength="44" lengthAdjust="spacingAndGlyphs" font-weight="bold">400</text>
<text x="469" y="1359.5" font-family="'Liberation Serif', serif" font-size="31" fill="#000" textLength="45" lengthAdjust="spacingAndGlyphs" font-weight="bold">500</text>
<text x="532" y="1359.5" font-family="'Liberation Serif', serif" font-size="31" fill="#000" textLength="45" lengthAdjust="spacingAndGlyphs" font-weight="bold">700</text>
<text x="584" y="1359.5" font-family="'Liberation Serif', serif" font-size="31" fill="#000" textLength="60" lengthAdjust="spacingAndGlyphs" font-weight="bold">1500</text>
<text x="688" y="1359.5" font-family="'Liberation Serif', serif" font-size="31" fill="#000" textLength="57" lengthAdjust="spacingAndGlyphs" font-weight="bold">(bp)</text>
</g>
<g id="panel-c">
<text x="936.5" y="56" font-family="'Liberation Serif', serif" font-size="60" fill="#000" font-weight="bold">c</text>
<rect x="996" y="77" width="615.5" height="132.9" fill="#afe6af"/>
<rect x="996" y="209.9" width="615.5" height="81.6" fill="#e6d7af"/>
<rect x="996" y="291.5" width="615.5" height="204" fill="#e6afaf"/>
<rect x="1008.07" y="77" width="12.07" height="132.9" fill="#c3e6c3"/>
<rect x="1008.07" y="209.9" width="12.07" height="81.6" fill="#e6dcc3"/>
<rect x="1008.07" y="291.5" width="12.07" height="204" fill="#e6c3c3"/>
<rect x="1032.21" y="77" width="12.07" height="132.9" fill="#c3e6c3"/>
<rect x="1032.21" y="209.9" width="12.07" height="81.6" fill="#e6dcc3"/>
<rect x="1032.21" y="291.5" width="12.07" height="204" fill="#e6c3c3"/>
<rect x="1056.34" y="77" width="12.07" height="132.9" fill="#c3e6c3"/>
<rect x="1056.34" y="209.9" width="12.07" height="81.6" fill="#e6dcc3"/>
<rect x="1056.34" y="291.5" width="12.07" height="204" fill="#e6c3c3"/>
<rect x="1080.48" y="77" width="12.07" height="132.9" fill="#c3e6c3"/>
<rect x="1080.48" y="209.9" width="12.07" height="81.6" fill="#e6dcc3"/>
<rect x="1080.48" y="291.5" width="12.07" height="204" fill="#e6c3c3"/>
<rect x="1104.62" y="77" width="12.07" height="132.9" fill="#c3e6c3"/>
<rect x="1104.62" y="209.9" width="12.07" height="81.6" fill="#e6dcc3"/>
<rect x="1104.62" y="291.5" width="12.07" height="204" fill="#e6c3c3"/>
<rect x="1128.75" y="77" width="12.07" height="132.9" fill="#c3e6c3"/>
<rect x="1128.75" y="209.9" width="12.07" height="81.6" fill="#e6dcc3"/>
<rect x="1128.75" y="291.5" width="12.07" height="204" fill="#e6c3c3"/>
<rect x="1152.89" y="77" width="12.07" height="132.9" fill="#c3e6c3"/>
<rect x="1152.89" y="209.9" width="12.07" height="81.6" fill="#e6dcc3"/>
<rect x="1152.89" y="291.5" width="12.07" height="204" fill="#e6c3c3"/>
<rect x="1177.03" y="77" width="12.07" height="132.9" fill="#c3e6c3"/>
<rect x="1177.03" y="209.9" width="12.07" height="81.6" fill="#e6dcc3"/>
<rect x="1177.03" y="291.5" width="12.07" height="204" fill="#e6c3c3"/>
<rect x="1201.17" y="77" width="12.07" height="132.9" fill="#c3e6c3"/>
<rect x="1201.17" y="209.9" width="12.07" height="81.6" fill="#e6dcc3"/>
<rect x="1201.17" y="291.5" width="12.07" height="204" fill="#e6c3c3"/>
<rect x="1225.3" y="77" width="12.07" height="132.9" fill="#c3e6c3"/>
<rect x="1225.3" y="209.9" width="12.07" height="81.6" fill="#e6dcc3"/>
<rect x="1225.3" y="291.5" width="12.07" height="204" fill="#e6c3c3"/>
<rect x="1249.44" y="77" width="12.07" height="132.9" fill="#c3e6c3"/>
<rect x="1249.44" y="209.9" width="12.07" height="81.6" fill="#e6dcc3"/>
<rect x="1249.44" y="291.5" width="12.07" height="204" fill="#e6c3c3"/>
<rect x="1273.58" y="77" width="12.07" height="132.9" fill="#c3e6c3"/>
<rect x="1273.58" y="209.9" width="12.07" height="81.6" fill="#e6dcc3"/>
<rect x="1273.58" y="291.5" width="12.07" height="204" fill="#e6c3c3"/>
<rect x="1297.72" y="77" width="12.07" height="132.9" fill="#c3e6c3"/>
<rect x="1297.72" y="209.9" width="12.07" height="81.6" fill="#e6dcc3"/>
<rect x="1297.72" y="291.5" width="12.07" height="204" fill="#e6c3c3"/>
<rect x="1321.85" y="77" width="12.07" height="132.9" fill="#c3e6c3"/>
<rect x="1321.85" y="209.9" width="12.07" height="81.6" fill="#e6dcc3"/>
<rect x="1321.85" y="291.5" width="12.07" height="204" fill="#e6c3c3"/>
<rect x="1345.99" y="77" width="12.07" height="132.9" fill="#c3e6c3"/>
<rect x="1345.99" y="209.9" width="12.07" height="81.6" fill="#e6dcc3"/>
<rect x="1345.99" y="291.5" width="12.07" height="204" fill="#e6c3c3"/>
<rect x="1370.13" y="77" width="12.07" height="132.9" fill="#c3e6c3"/>
<rect x="1370.13" y="209.9" width="12.07" height="81.6" fill="#e6dcc3"/>
<rect x="1370.13" y="291.5" width="12.07" height="204" fill="#e6c3c3"/>
<rect x="1394.26" y="77" width="12.07" height="132.9" fill="#c3e6c3"/>
<rect x="1394.26" y="209.9" width="12.07" height="81.6" fill="#e6dcc3"/>
<rect x="1394.26" y="291.5" width="12.07" height="204" fill="#e6c3c3"/>
<rect x="1418.4" y="77" width="12.07" height="132.9" fill="#c3e6c3"/>
<rect x="1418.4" y="209.9" width="12.07" height="81.6" fill="#e6dcc3"/>
<rect x="1418.4" y="291.5" width="12.07" height="204" fill="#e6c3c3"/>
<rect x="1442.54" y="77" width="12.07" height="132.9" fill="#c3e6c3"/>
<rect x="1442.54" y="209.9" width="12.07" height="81.6" fill="#e6dcc3"/>
<rect x="1442.54" y="291.5" width="12.07" height="204" fill="#e6c3c3"/>
<rect x="1466.68" y="77" width="12.07" height="132.9" fill="#c3e6c3"/>
<rect x="1466.68" y="209.9" width="12.07" height="81.6" fill="#e6dcc3"/>
<rect x="1466.68" y="291.5" width="12.07" height="204" fill="#e6c3c3"/>
<rect x="1490.81" y="77" width="12.07" height="132.9" fill="#c3e6c3"/>
<rect x="1490.81" y="209.9" width="12.07" height="81.6" fill="#e6dcc3"/>
<rect x="1490.81" y="291.5" width="12.07" height="204" fill="#e6c3c3"/>
<rect x="1514.95" y="77" width="12.07" height="132.9" fill="#c3e6c3"/>
<rect x="1514.95" y="209.9" width="12.07" height="81.6" fill="#e6dcc3"/>
<rect x="1514.95" y="291.5" width="12.07" height="204" fill="#e6c3c3"/>
<rect x="1539.09" y="77" width="12.07" height="132.9" fill="#c3e6c3"/>
<rect x="1539.09" y="209.9" width="12.07" height="81.6" fill="#e6dcc3"/>
<rect x="1539.09" y="291.5" width="12.07" height="204" fill="#e6c3c3"/>
<rect x="1563.23" y="77" width="12.07" height="132.9" fill="#c3e6c3"/>
<rect x="1563.23" y="209.9" width="12.07" height="81.6" fill="#e6dcc3"/>
<rect x="1563.23" y="291.5" width="12.07" height="204" fill="#e6c3c3"/>
<rect x="1587.36" y="77" width="12.07" height="132.9" fill="#c3e6c3"/>
<rect x="1587.36" y="209.9" width="12.07" height="81.6" fill="#e6dcc3"/>
<rect x="1587.36" y="291.5" width="12.07" height="204" fill="#e6c3c3"/>
<line x1="995.5" y1="77" x2="995.5" y2="496.5" stroke="#8c8c8c" stroke-width="1.6"/>
<line x1="994.7" y1="496.1" x2="1615.5" y2="496.1" stroke="#8c8c8c" stroke-width="1.8"/>
<line x1="1002.03" y1="179.3" x2="1002.03" y2="189.5" stroke="#1e261e" stroke-width="1.6" stroke-opacity="0.5"/>
<line x1="997.83" y1="189.5" x2="1006.23" y2="189.5" stroke="#1e261e" stroke-width="1.6" stroke-opacity="0.5"/>
<line x1="1014.1" y1="179.3" x2="1014.1" y2="189.5" stroke="#1e261e" stroke-width="1.6" stroke-opacity="0.5"/>
<line x1="1009.9" y1="189.5" x2="1018.3" y2="189.5" stroke="#1e261e" stroke-width="1.6" stroke-opacity="0.5"/>
<line x1="1026.17" y1="179.3" x2="1026.17" y2="189.5" stroke="#1e261e" stroke-width="1.6" stroke-opacity="0.5"/>
<line x1="1021.97" y1="189.5" x2="1030.37" y2="189.5" stroke="#1e261e" stroke-width="1.6" stroke-opacity="0.5"/>
<line x1="1098.58" y1="118.1" x2="1098.58" y2="138.5" stroke="#1e261e" stroke-width="1.6" stroke-opacity="0.5"/>
<line x1="1094.38" y1="138.5" x2="1102.78" y2="138.5" stroke="#1e261e" stroke-width="1.6" stroke-opacity="0.5"/>
<line x1="1110.65" y1="118.1" x2="1110.65" y2="148.7" stroke="#1e261e" stroke-width="1.6" stroke-opacity="0.5"/>
<line x1="1106.45" y1="148.7" x2="1114.85" y2="148.7" stroke="#1e261e" stroke-width="1.6" stroke-opacity="0.5"/>
<line x1="1122.72" y1="118.1" x2="1122.72" y2="148.7" stroke="#1e261e" stroke-width="1.6" stroke-opacity="0.5"/>
<line x1="1118.52" y1="148.7" x2="1126.92" y2="148.7" stroke="#1e261e" stroke-width="1.6" stroke-opacity="0.5"/>
<line x1="1134.79" y1="118.1" x2="1134.79" y2="158.9" stroke="#1e261e" stroke-width="1.6" stroke-opacity="0.5"/>
<line x1="1130.59" y1="158.9" x2="1138.99" y2="158.9" stroke="#1e261e" stroke-width="1.6" stroke-opacity="0.5"/>
<line x1="1146.86" y1="118.1" x2="1146.86" y2="169.1" stroke="#1e261e" stroke-width="1.6" stroke-opacity="0.5"/>
<line x1="1142.66" y1="169.1" x2="1151.06" y2="169.1" stroke="#1e261e" stroke-width="1.6" stroke-opacity="0.5"/>
<line x1="1158.93" y1="128.3" x2="1158.93" y2="169.1" stroke="#1e261e" stroke-width="1.6" stroke-opacity="0.5"/>
<line x1="1154.73" y1="169.1" x2="1163.13" y2="169.1" stroke="#1e261e" stroke-width="1.6" stroke-opacity="0.5"/>
<line x1="1171" y1="118.1" x2="1171" y2="158.9" stroke="#1e261e" stroke-width="1.6" stroke-opacity="0.5"/>
<line x1="1166.8" y1="158.9" x2="1175.2" y2="158.9" stroke="#1e261e" stroke-width="1.6" stroke-opacity="0.5"/>
<line x1="1183.06" y1="128.3" x2="1183.06" y2="169.1" stroke="#1e261e" stroke-width="1.6" stroke-opacity="0.5"/>
<line x1="1178.86" y1="169.1" x2="1187.26" y2="169.1" stroke="#1e261e" stroke-width="1.6" stroke-opacity="0.5"/>
<line x1="1195.13" y1="128.3" x2="1195.13" y2="169.1" stroke="#1e261e" stroke-width="1.6" stroke-opacity="0.5"/>
<line x1="1190.93" y1="169.1" x2="1199.33" y2="169.1" stroke="#1e261e" stroke-width="1.6" stroke-opacity="0.5"/>
<line x1="1207.2" y1="128.3" x2="1207.2" y2="158.9" stroke="#1e261e" stroke-width="1.6" stroke-opacity="0.5"/>
<line x1="1203" y1="158.9" x2="1211.4" y2="158.9" stroke="#1e261e" stroke-width="1.6" stroke-opacity="0.5"/>
<line x1="1219.27" y1="128.3" x2="1219.27" y2="158.9" stroke="#1e261e" stroke-width="1.6" stroke-opacity="0.5"/>
<line x1="1215.07" y1="158.9" x2="1223.47" y2="158.9" stroke="#1e261e" stroke-width="1.6" stroke-opacity="0.5"/>
<line x1="1231.34" y1="128.3" x2="1231.34" y2="169.1" stroke="#1e261e" stroke-width="1.6" stroke-opacity="0.5"/>
<line x1="1227.14" y1="169.1" x2="1235.54" y2="169.1" stroke="#1e261e" stroke-width="1.6" stroke-opacity="0.5"/>
<line x1="1243.41" y1="128.3" x2="1243.41" y2="169.1" stroke="#1e261e" stroke-width="1.6" stroke-opacity="0.5"/>
<line x1="1239.21" y1="169.1" x2="1247.61" y2="169.1" stroke="#1e261e" stroke-width="1.6" stroke-opacity="0.5"/>
<line x1="1255.48" y1="128.3" x2="1255.48" y2="169.1" stroke="#1e261e" stroke-width="1.6" stroke-opacity="0.5"/>
<line x1="1251.28" y1="169.1" x2="1259.68" y2="169.1" stroke="#1e261e" stroke-width="1.6" stroke-opacity="0.5"/>
<line x1="1267.54" y1="138.5" x2="1267.54" y2="179.3" stroke="#1e261e" stroke-width="1.6" stroke-opacity="0.5"/>
<line x1="1263.34" y1="179.3" x2="1271.74" y2="179.3" stroke="#1e261e" stroke-width="1.6" stroke-opacity="0.5"/>
<line x1="1267.54" y1="87.5" x2="1267.54" y2="78.1" stroke="#1e261e" stroke-width="1.6" stroke-opacity="0.5"/>
<line x1="1263.34" y1="78.1" x2="1271.74" y2="78.1" stroke="#1e261e" stroke-width="1.6" stroke-opacity="0.5"/>
<line x1="1279.61" y1="138.5" x2="1279.61" y2="189.5" stroke="#1e261e" stroke-width="1.6" stroke-opacity="0.5"/>
<line x1="1275.41" y1="189.5" x2="1283.81" y2="189.5" stroke="#1e261e" stroke-width="1.6" stroke-opacity="0.5"/>
<line x1="1279.61" y1="87.5" x2="1279.61" y2="78.1" stroke="#1e261e" stroke-width="1.6" stroke-opacity="0.5"/>
<line x1="1275.41" y1="78.1" x2="1283.81" y2="78.1" stroke="#1e261e" stroke-width="1.6" stroke-opacity="0.5"/>
<line x1="1291.68" y1="138.5" x2="1291.68" y2="189.5" stroke="#1e261e" stroke-width="1.6" stroke-opacity="0.5"/>
<line x1="1287.48" y1="189.5" x2="1295.88" y2="189.5" stroke="#1e261e" stroke-width="1.6" stroke-opacity="0.5"/>
<line x1="1291.68" y1="87.5" x2="1291.68" y2="78.1" stroke="#1e261e" stroke-width="1.6" stroke-opacity="0.5"/>
<line x1="1287.48" y1="78.1" x2="1295.88" y2="78.1" stroke="#1e261e" stroke-width="1.6" stroke-opacity="0.5"/>
<line x1="1303.75" y1="138.5" x2="1303.75" y2="199.7" stroke="#1e261e" stroke-width="1.6" stroke-opacity="0.5"/>
<line x1="1299.55" y1="199.7" x2="1307.95" y2="199.7" stroke="#1e261e" stroke-width="1.6" stroke-opacity="0.5"/>
<line x1="1303.75" y1="87.5" x2="1303.75" y2="78.1" stroke="#1e261e" stroke-width="1.6" stroke-opacity="0.5"/>
<line x1="1299.55" y1="78.1" x2="1307.95" y2="78.1" stroke="#1e261e" stroke-width="1.6" stroke-opacity="0.5"/>
<line x1="1315.82" y1="148.7" x2="1315.82" y2="209.9" stroke="#1e261e" stroke-width="1.6" stroke-opacity="0.5"/>
<line x1="1311.62" y1="209.9" x2="1320.02" y2="209.9" stroke="#1e261e" stroke-width="1.6" stroke-opacity="0.5"/>
<line x1="1315.82" y1="87.5" x2="1315.82" y2="78.1" stroke="#1e261e" stroke-width="1.6" stroke-opacity="0.5"/>
<line x1="1311.62" y1="78.1" x2="1320.02" y2="78.1" stroke="#1e261e" stroke-width="1.6" stroke-opacity="0.5"/>
<line x1="1327.89" y1="148.7" x2="1327.89" y2="199.7" stroke="#1e261e" stroke-width="1.6" stroke-opacity="0.5"/>
<line x1="1323.69" y1="199.7" x2="1332.09" y2="199.7" stroke="#1e261e" stroke-width="1.6" stroke-opacity="0.5"/>
<line x1="1327.89" y1="87.5" x2="1327.89" y2="78.1" stroke="#1e261e" stroke-width="1.6" stroke-opacity="0.5"/>
<line x1="1323.69" y1="78.1" x2="1332.09" y2="78.1" stroke="#1e261e" stroke-width="1.6" stroke-opacity="0.5"/>
<line x1="1339.96" y1="148.7" x2="1339.96" y2="199.7" stroke="#1e261e" stroke-width="1.6" stroke-opacity="0.5"/>
<line x1="1335.76" y1="199.7" x2="1344.16" y2="199.7" stroke="#1e261e" stroke-width="1.6" stroke-opacity="0.5"/>
<line x1="1339.96" y1="87.5" x2="1339.96" y2="78.1" stroke="#1e261e" stroke-width="1.6" stroke-opacity="0.5"/>
<line x1="1335.76" y1="78.1" x2="1344.16" y2="78.1" stroke="#1e261e" stroke-width="1.6" stroke-opacity="0.5"/>
<line x1="1352.02" y1="148.7" x2="1352.02" y2="209.9" stroke="#1e261e" stroke-width="1.6" stroke-opacity="0.5"/>
<line x1="1347.82" y1="209.9" x2="1356.22" y2="209.9" stroke="#1e261e" stroke-width="1.6" stroke-opacity="0.5"/>
<line x1="1352.02" y1="87.5" x2="1352.02" y2="78.1" stroke="#1e261e" stroke-width="1.6" stroke-opacity="0.5"/>
<line x1="1347.82" y1="78.1" x2="1356.22" y2="78.1" stroke="#1e261e" stroke-width="1.6" stroke-opacity="0.5"/>
<line x1="1364.09" y1="148.7" x2="1364.09" y2="189.5" stroke="#1e261e" stroke-width="1.6" stroke-opacity="0.5"/>
<line x1="1359.89" y1="189.5" x2="1368.29" y2="189.5" stroke="#1e261e" stroke-width="1.6" stroke-opacity="0.5"/>
<line x1="1364.09" y1="87.5" x2="1364.09" y2="78.1" stroke="#1e261e" stroke-width="1.6" stroke-opacity="0.5"/>
<line x1="1359.89" y1="78.1" x2="1368.29" y2="78.1" stroke="#1e261e" stroke-width="1.6" stroke-opacity="0.5"/>
<line x1="1376.16" y1="148.7" x2="1376.16" y2="189.5" stroke="#1e261e" stroke-width="1.6" stroke-opacity="0.5"/>
<line x1="1371.96" y1="189.5" x2="1380.36" y2="189.5" stroke="#1e261e" stroke-width="1.6" stroke-opacity="0.5"/>
<line x1="1376.16" y1="87.5" x2="1376.16" y2="78.1" stroke="#1e261e" stroke-width="1.6" stroke-opacity="0.5"/>
<line x1="1371.96" y1="78.1" x2="1380.36" y2="78.1" stroke="#1e261e" stroke-width="1.6" stroke-opacity="0.5"/>
<line x1="1388.23" y1="148.7" x2="1388.23" y2="189.5" stroke="#1e261e" stroke-width="1.6" stroke-opacity="0.5"/>
<line x1="1384.03" y1="189.5" x2="1392.43" y2="189.5" stroke="#1e261e" stroke-width="1.6" stroke-opacity="0.5"/>
<line x1="1388.23" y1="87.5" x2="1388.23" y2="78.1" stroke="#1e261e" stroke-width="1.6" stroke-opacity="0.5"/>
<line x1="1384.03" y1="78.1" x2="1392.43" y2="78.1" stroke="#1e261e" stroke-width="1.6" stroke-opacity="0.5"/>
<line x1="1400.3" y1="148.7" x2="1400.3" y2="189.5" stroke="#1e261e" stroke-width="1.6" stroke-opacity="0.5"/>
<line x1="1396.1" y1="189.5" x2="1404.5" y2="189.5" stroke="#1e261e" stroke-width="1.6" stroke-opacity="0.5"/>
<line x1="1400.3" y1="87.5" x2="1400.3" y2="78.1" stroke="#1e261e" stroke-width="1.6" stroke-opacity="0.5"/>
<line x1="1396.1" y1="78.1" x2="1404.5" y2="78.1" stroke="#1e261e" stroke-width="1.6" stroke-opacity="0.5"/>
<line x1="1412.37" y1="148.7" x2="1412.37" y2="189.5" stroke="#1e261e" stroke-width="1.6" stroke-opacity="0.5"/>
<line x1="1408.17" y1="189.5" x2="1416.57" y2="189.5" stroke="#1e261e" stroke-width="1.6" stroke-opacity="0.5"/>
<line x1="1412.37" y1="87.5" x2="1412.37" y2="78.1" stroke="#1e261e" stroke-width="1.6" stroke-opacity="0.5"/>
<line x1="1408.17" y1="78.1" x2="1416.57" y2="78.1" stroke="#1e261e" stroke-width="1.6" stroke-opacity="0.5"/>
<line x1="1424.44" y1="148.7" x2="1424.44" y2="189.5" stroke="#1e261e" stroke-width="1.6" stroke-opacity="0.5"/>
<line x1="1420.24" y1="189.5" x2="1428.64" y2="189.5" stroke="#1e261e" stroke-width="1.6" stroke-opacity="0.5"/>
<line x1="1424.44" y1="87.5" x2="1424.44" y2="78.1" stroke="#1e261e" stroke-width="1.6" stroke-opacity="0.5"/>
<line x1="1420.24" y1="78.1" x2="1428.64" y2="78.1" stroke="#1e261e" stroke-width="1.6" stroke-opacity="0.5"/>
<line x1="1436.5" y1="148.7" x2="1436.5" y2="189.5" stroke="#1e261e" stroke-width="1.6" stroke-opacity="0.5"/>
<line x1="1432.3" y1="189.5" x2="1440.7" y2="189.5" stroke="#1e261e" stroke-width="1.6" stroke-opacity="0.5"/>
<line x1="1436.5" y1="87.5" x2="1436.5" y2="78.1" stroke="#1e261e" stroke-width="1.6" stroke-opacity="0.5"/>
<line x1="1432.3" y1="78.1" x2="1440.7" y2="78.1" stroke="#1e261e" stroke-width="1.6" stroke-opacity="0.5"/>
<line x1="1448.57" y1="148.7" x2="1448.57" y2="189.5" stroke="#1e261e" stroke-width="1.6" stroke-opacity="0.5"/>
<line x1="1444.37" y1="189.5" x2="1452.77" y2="189.5" stroke="#1e261e" stroke-width="1.6" stroke-opacity="0.5"/>
<line x1="1448.57" y1="87.5" x2="1448.57" y2="78.1" stroke="#1e261e" stroke-width="1.6" stroke-opacity="0.5"/>
<line x1="1444.37" y1="78.1" x2="1452.77" y2="78.1" stroke="#1e261e" stroke-width="1.6" stroke-opacity="0.5"/>
<line x1="1460.64" y1="148.7" x2="1460.64" y2="199.7" stroke="#1e261e" stroke-width="1.6" stroke-opacity="0.5"/>
<line x1="1456.44" y1="199.7" x2="1464.84" y2="199.7" stroke="#1e261e" stroke-width="1.6" stroke-opacity="0.5"/>
<line x1="1460.64" y1="87.5" x2="1460.64" y2="78.1" stroke="#1e261e" stroke-width="1.6" stroke-opacity="0.5"/>
<line x1="1456.44" y1="78.1" x2="1464.84" y2="78.1" stroke="#1e261e" stroke-width="1.6" stroke-opacity="0.5"/>
<line x1="1472.71" y1="148.7" x2="1472.71" y2="189.5" stroke="#1e261e" stroke-width="1.6" stroke-opacity="0.5"/>
<line x1="1468.51" y1="189.5" x2="1476.91" y2="189.5" stroke="#1e261e" stroke-width="1.6" stroke-opacity="0.5"/>
<line x1="1472.71" y1="87.5" x2="1472.71" y2="78.1" stroke="#1e261e" stroke-width="1.6" stroke-opacity="0.5"/>
<line x1="1468.51" y1="78.1" x2="1476.91" y2="78.1" stroke="#1e261e" stroke-width="1.6" stroke-opacity="0.5"/>
<line x1="1484.78" y1="148.7" x2="1484.78" y2="189.5" stroke="#1e261e" stroke-width="1.6" stroke-opacity="0.5"/>
<line x1="1480.58" y1="189.5" x2="1488.98" y2="189.5" stroke="#1e261e" stroke-width="1.6" stroke-opacity="0.5"/>
<line x1="1484.78" y1="87.5" x2="1484.78" y2="78.1" stroke="#1e261e" stroke-width="1.6" stroke-opacity="0.5"/>
<line x1="1480.58" y1="78.1" x2="1488.98" y2="78.1" stroke="#1e261e" stroke-width="1.6" stroke-opacity="0.5"/>
<line x1="1496.85" y1="148.7" x2="1496.85" y2="199.7" stroke="#1e261e" stroke-width="1.6" stroke-opacity="0.5"/>
<line x1="1492.65" y1="199.7" x2="1501.05" y2="199.7" stroke="#1e261e" stroke-width="1.6" stroke-opacity="0.5"/>
<line x1="1496.85" y1="87.5" x2="1496.85" y2="78.1" stroke="#1e261e" stroke-width="1.6" stroke-opacity="0.5"/>
<line x1="1492.65" y1="78.1" x2="1501.05" y2="78.1" stroke="#1e261e" stroke-width="1.6" stroke-opacity="0.5"/>
<line x1="1508.92" y1="148.7" x2="1508.92" y2="199.7" stroke="#1e261e" stroke-width="1.6" stroke-opacity="0.5"/>
<line x1="1504.72" y1="199.7" x2="1513.12" y2="199.7" stroke="#1e261e" stroke-width="1.6" stroke-opacity="0.5"/>
<line x1="1508.92" y1="87.5" x2="1508.92" y2="78.1" stroke="#1e261e" stroke-width="1.6" stroke-opacity="0.5"/>
<line x1="1504.72" y1="78.1" x2="1513.12" y2="78.1" stroke="#1e261e" stroke-width="1.6" stroke-opacity="0.5"/>
<line x1="1520.99" y1="148.7" x2="1520.99" y2="199.7" stroke="#1e261e" stroke-width="1.6" stroke-opacity="0.5"/>
<line x1="1516.79" y1="199.7" x2="1525.19" y2="199.7" stroke="#1e261e" stroke-width="1.6" stroke-opacity="0.5"/>
<line x1="1520.99" y1="87.5" x2="1520.99" y2="78.1" stroke="#1e261e" stroke-width="1.6" stroke-opacity="0.5"/>
<line x1="1516.79" y1="78.1" x2="1525.19" y2="78.1" stroke="#1e261e" stroke-width="1.6" stroke-opacity="0.5"/>
<line x1="1533.05" y1="148.7" x2="1533.05" y2="199.7" stroke="#1e261e" stroke-width="1.6" stroke-opacity="0.5"/>
<line x1="1528.85" y1="199.7" x2="1537.25" y2="199.7" stroke="#1e261e" stroke-width="1.6" stroke-opacity="0.5"/>
<line x1="1533.05" y1="97.7" x2="1533.05" y2="78.1" stroke="#1e261e" stroke-width="1.6" stroke-opacity="0.5"/>
<line x1="1528.85" y1="78.1" x2="1537.25" y2="78.1" stroke="#1e261e" stroke-width="1.6" stroke-opacity="0.5"/>
<line x1="1545.12" y1="148.7" x2="1545.12" y2="209.9" stroke="#1e261e" stroke-width="1.6" stroke-opacity="0.5"/>
<line x1="1540.92" y1="209.9" x2="1549.32" y2="209.9" stroke="#1e261e" stroke-width="1.6" stroke-opacity="0.5"/>
<line x1="1545.12" y1="97.7" x2="1545.12" y2="78.1" stroke="#1e261e" stroke-width="1.6" stroke-opacity="0.5"/>
<line x1="1540.92" y1="78.1" x2="1549.32" y2="78.1" stroke="#1e261e" stroke-width="1.6" stroke-opacity="0.5"/>
<line x1="1557.19" y1="158.9" x2="1557.19" y2="220.1" stroke="#1e261e" stroke-width="1.6" stroke-opacity="0.5"/>
<line x1="1552.99" y1="220.1" x2="1561.39" y2="220.1" stroke="#1e261e" stroke-width="1.6" stroke-opacity="0.5"/>
<line x1="1557.19" y1="97.7" x2="1557.19" y2="88.3" stroke="#1e261e" stroke-width="1.6" stroke-opacity="0.5"/>
<line x1="1552.99" y1="88.3" x2="1561.39" y2="88.3" stroke="#1e261e" stroke-width="1.6" stroke-opacity="0.5"/>
<line x1="1569.26" y1="158.9" x2="1569.26" y2="230.3" stroke="#1e261e" stroke-width="1.6" stroke-opacity="0.5"/>
<line x1="1565.06" y1="230.3" x2="1573.46" y2="230.3" stroke="#1e261e" stroke-width="1.6" stroke-opacity="0.5"/>
<line x1="1569.26" y1="97.7" x2="1569.26" y2="88.3" stroke="#1e261e" stroke-width="1.6" stroke-opacity="0.5"/>
<line x1="1565.06" y1="88.3" x2="1573.46" y2="88.3" stroke="#1e261e" stroke-width="1.6" stroke-opacity="0.5"/>
<line x1="1581.33" y1="169.1" x2="1581.33" y2="250.7" stroke="#1e261e" stroke-width="1.6" stroke-opacity="0.5"/>
<line x1="1577.13" y1="250.7" x2="1585.53" y2="250.7" stroke="#1e261e" stroke-width="1.6" stroke-opacity="0.5"/>
<line x1="1581.33" y1="97.7" x2="1581.33" y2="88.3" stroke="#1e261e" stroke-width="1.6" stroke-opacity="0.5"/>
<line x1="1577.13" y1="88.3" x2="1585.53" y2="88.3" stroke="#1e261e" stroke-width="1.6" stroke-opacity="0.5"/>
<line x1="1593.4" y1="169.1" x2="1593.4" y2="250.7" stroke="#1e261e" stroke-width="1.6" stroke-opacity="0.5"/>
<line x1="1589.2" y1="250.7" x2="1597.6" y2="250.7" stroke="#1e261e" stroke-width="1.6" stroke-opacity="0.5"/>
<line x1="1593.4" y1="97.7" x2="1593.4" y2="88.3" stroke="#1e261e" stroke-width="1.6" stroke-opacity="0.5"/>
<line x1="1589.2" y1="88.3" x2="1597.6" y2="88.3" stroke="#1e261e" stroke-width="1.6" stroke-opacity="0.5"/>
<line x1="1605.47" y1="179.3" x2="1605.47" y2="291.5" stroke="#1e261e" stroke-width="1.6" stroke-opacity="0.5"/>
<line x1="1601.27" y1="291.5" x2="1609.67" y2="291.5" stroke="#1e261e" stroke-width="1.6" stroke-opacity="0.5"/>
<line x1="1605.47" y1="118.1" x2="1605.47" y2="88.3" stroke="#1e261e" stroke-width="1.6" stroke-opacity="0.5"/>
<line x1="1601.27" y1="88.3" x2="1609.67" y2="88.3" stroke="#1e261e" stroke-width="1.6" stroke-opacity="0.5"/>
<rect x="997.53" y="148.7" width="9" height="30.6" rx="3" ry="3" fill="#fdfd00" stroke="#a9a400" stroke-width="1.3"/>
<line x1="998.33" y1="158.9" x2="1005.73" y2="158.9" stroke="#f08a00" stroke-width="2"/>
<rect x="1009.6" y="148.7" width="9" height="30.6" rx="3" ry="3" fill="#fdfd00" stroke="#a9a400" stroke-width="1.3"/>
<line x1="1010.4" y1="158.9" x2="1017.8" y2="158.9" stroke="#f08a00" stroke-width="2"/>
<rect x="1021.67" y="148.7" width="9" height="30.6" rx="3" ry="3" fill="#fdfd00" stroke="#a9a400" stroke-width="1.3"/>
<line x1="1022.47" y1="158.9" x2="1029.87" y2="158.9" stroke="#f08a00" stroke-width="2"/>
<rect x="1033.74" y="118.1" width="9" height="20.4" rx="3" ry="3" fill="#fdfd00" stroke="#a9a400" stroke-width="1.3"/>
<rect x="1045.81" y="118.1" width="9" height="20.4" rx="3" ry="3" fill="#fdfd00" stroke="#a9a400" stroke-width="1.3"/>
<rect x="1057.88" y="118.1" width="9" height="20.4" rx="3" ry="3" fill="#fdfd00" stroke="#a9a400" stroke-width="1.3"/>
<rect x="1069.95" y="118.1" width="9" height="20.4" rx="3" ry="3" fill="#fdfd00" stroke="#a9a400" stroke-width="1.3"/>
<rect x="1082.01" y="118.1" width="9" height="20.4" rx="3" ry="3" fill="#fdfd00" stroke="#a9a400" stroke-width="1.3"/>
<rect x="1094.08" y="97.7" width="9" height="20.4" rx="3" ry="3" fill="#fdfd00" stroke="#a9a400" stroke-width="1.3"/>
<rect x="1106.15" y="97.7" width="9" height="20.4" rx="3" ry="3" fill="#fdfd00" stroke="#a9a400" stroke-width="1.3"/>
<rect x="1118.22" y="97.7" width="9" height="20.4" rx="3" ry="3" fill="#fdfd00" stroke="#a9a400" stroke-width="1.3"/>
<rect x="1130.29" y="97.7" width="9" height="20.4" rx="3" ry="3" fill="#fdfd00" stroke="#a9a400" stroke-width="1.3"/>
<rect x="1142.36" y="97.7" width="9" height="20.4" rx="3" ry="3" fill="#fdfd00" stroke="#a9a400" stroke-width="1.3"/>
<rect x="1154.43" y="77.6" width="9" height="50.7" rx="3" ry="3" fill="#fdfd00" stroke="#a9a400" stroke-width="1.3"/>
<line x1="1155.23" y1="97.7" x2="1162.63" y2="97.7" stroke="#f08a00" stroke-width="2"/>
<rect x="1166.5" y="77.6" width="9" height="40.5" rx="3" ry="3" fill="#fdfd00" stroke="#a9a400" stroke-width="1.3"/>
<line x1="1167.3" y1="97.7" x2="1174.7" y2="97.7" stroke="#f08a00" stroke-width="2"/>
<rect x="1178.56" y="77.6" width="9" height="50.7" rx="3" ry="3" fill="#fdfd00" stroke="#a9a400" stroke-width="1.3"/>
<line x1="1179.36" y1="97.7" x2="1186.76" y2="97.7" stroke="#f08a00" stroke-width="2"/>
<rect x="1190.63" y="77.6" width="9" height="50.7" rx="3" ry="3" fill="#fdfd00" stroke="#a9a400" stroke-width="1.3"/>
<line x1="1191.43" y1="87.5" x2="1198.83" y2="87.5" stroke="#f08a00" stroke-width="2"/>
<rect x="1202.7" y="77.6" width="9" height="50.7" rx="3" ry="3" fill="#fdfd00" stroke="#a9a400" stroke-width="1.3"/>
<line x1="1203.5" y1="87.5" x2="1210.9" y2="87.5" stroke="#f08a00" stroke-width="2"/>
<rect x="1214.77" y="77.6" width="9" height="50.7" rx="3" ry="3" fill="#fdfd00" stroke="#a9a400" stroke-width="1.3"/>
<line x1="1215.57" y1="87.5" x2="1222.97" y2="87.5" stroke="#f08a00" stroke-width="2"/>
<rect x="1226.84" y="77.6" width="9" height="50.7" rx="3" ry="3" fill="#fdfd00" stroke="#a9a400" stroke-width="1.3"/>
<line x1="1227.64" y1="97.7" x2="1235.04" y2="97.7" stroke="#f08a00" stroke-width="2"/>
<rect x="1238.91" y="77.6" width="9" height="50.7" rx="3" ry="3" fill="#fdfd00" stroke="#a9a400" stroke-width="1.3"/>
<line x1="1239.71" y1="97.7" x2="1247.11" y2="97.7" stroke="#f08a00" stroke-width="2"/>
<rect x="1250.98" y="77.6" width="9" height="50.7" rx="3" ry="3" fill="#fdfd00" stroke="#a9a400" stroke-width="1.3"/>
<line x1="1251.78" y1="97.7" x2="1259.18" y2="97.7" stroke="#f08a00" stroke-width="2"/>
<rect x="1263.04" y="87.5" width="9" height="51" rx="3" ry="3" fill="#fdfd00" stroke="#a9a400" stroke-width="1.3"/>
<line x1="1263.84" y1="97.7" x2="1271.24" y2="97.7" stroke="#f08a00" stroke-width="2"/>
<rect x="1275.11" y="87.5" width="9" height="51" rx="3" ry="3" fill="#fdfd00" stroke="#a9a400" stroke-width="1.3"/>
<line x1="1275.91" y1="107.9" x2="1283.31" y2="107.9" stroke="#f08a00" stroke-width="2"/>
<rect x="1287.18" y="87.5" width="9" height="51" rx="3" ry="3" fill="#fdfd00" stroke="#a9a400" stroke-width="1.3"/>
<line x1="1287.98" y1="107.9" x2="1295.38" y2="107.9" stroke="#f08a00" stroke-width="2"/>
<rect x="1299.25" y="87.5" width="9" height="51" rx="3" ry="3" fill="#fdfd00" stroke="#a9a400" stroke-width="1.3"/>
<line x1="1300.05" y1="107.9" x2="1307.45" y2="107.9" stroke="#f08a00" stroke-width="2"/>
<rect x="1311.32" y="87.5" width="9" height="61.2" rx="3" ry="3" fill="#fdfd00" stroke="#a9a400" stroke-width="1.3"/>
<line x1="1312.12" y1="107.9" x2="1319.52" y2="107.9" stroke="#f08a00" stroke-width="2"/>
<rect x="1323.39" y="87.5" width="9" height="61.2" rx="3" ry="3" fill="#fdfd00" stroke="#a9a400" stroke-width="1.3"/>
<line x1="1324.19" y1="107.9" x2="1331.59" y2="107.9" stroke="#f08a00" stroke-width="2"/>
<rect x="1335.46" y="87.5" width="9" height="61.2" rx="3" ry="3" fill="#fdfd00" stroke="#a9a400" stroke-width="1.3"/>
<line x1="1336.26" y1="107.9" x2="1343.66" y2="107.9" stroke="#f08a00" stroke-width="2"/>
<rect x="1347.52" y="87.5" width="9" height="61.2" rx="3" ry="3" fill="#fdfd00" stroke="#a9a400" stroke-width="1.3"/>
<line x1="1348.32" y1="107.9" x2="1355.72" y2="107.9" stroke="#f08a00" stroke-width="2"/>
<rect x="1359.59" y="87.5" width="9" height="61.2" rx="3" ry="3" fill="#fdfd00" stroke="#a9a400" stroke-width="1.3"/>
<line x1="1360.39" y1="107.9" x2="1367.79" y2="107.9" stroke="#f08a00" stroke-width="2"/>
<rect x="1371.66" y="87.5" width="9" height="61.2" rx="3" ry="3" fill="#fdfd00" stroke="#a9a400" stroke-width="1.3"/>
<line x1="1372.46" y1="107.9" x2="1379.86" y2="107.9" stroke="#f08a00" stroke-width="2"/>
<rect x="1383.73" y="87.5" width="9" height="61.2" rx="3" ry="3" fill="#fdfd00" stroke="#a9a400" stroke-width="1.3"/>
<line x1="1384.53" y1="107.9" x2="1391.93" y2="107.9" stroke="#f08a00" stroke-width="2"/>
<rect x="1395.8" y="87.5" width="9" height="61.2" rx="3" ry="3" fill="#fdfd00" stroke="#a9a400" stroke-width="1.3"/>
<line x1="1396.6" y1="107.9" x2="1404" y2="107.9" stroke="#f08a00" stroke-width="2"/>
<rect x="1407.87" y="87.5" width="9" height="61.2" rx="3" ry="3" fill="#fdfd00" stroke="#a9a400" stroke-width="1.3"/>
<line x1="1408.67" y1="107.9" x2="1416.07" y2="107.9" stroke="#f08a00" stroke-width="2"/>
<rect x="1419.94" y="87.5" width="9" height="61.2" rx="3" ry="3" fill="#fdfd00" stroke="#a9a400" stroke-width="1.3"/>
<line x1="1420.74" y1="107.9" x2="1428.14" y2="107.9" stroke="#f08a00" stroke-width="2"/>
<rect x="1432" y="87.5" width="9" height="61.2" rx="3" ry="3" fill="#fdfd00" stroke="#a9a400" stroke-width="1.3"/>
<line x1="1432.8" y1="107.9" x2="1440.2" y2="107.9" stroke="#f08a00" stroke-width="2"/>
<rect x="1444.07" y="87.5" width="9" height="61.2" rx="3" ry="3" fill="#fdfd00" stroke="#a9a400" stroke-width="1.3"/>
<line x1="1444.87" y1="107.9" x2="1452.27" y2="107.9" stroke="#f08a00" stroke-width="2"/>
<rect x="1456.14" y="87.5" width="9" height="61.2" rx="3" ry="3" fill="#fdfd00" stroke="#a9a400" stroke-width="1.3"/>
<line x1="1456.94" y1="118.1" x2="1464.34" y2="118.1" stroke="#f08a00" stroke-width="2"/>
<rect x="1468.21" y="87.5" width="9" height="61.2" rx="3" ry="3" fill="#fdfd00" stroke="#a9a400" stroke-width="1.3"/>
<line x1="1469.01" y1="118.1" x2="1476.41" y2="118.1" stroke="#f08a00" stroke-width="2"/>
<rect x="1480.28" y="87.5" width="9" height="61.2" rx="3" ry="3" fill="#fdfd00" stroke="#a9a400" stroke-width="1.3"/>
<line x1="1481.08" y1="118.1" x2="1488.48" y2="118.1" stroke="#f08a00" stroke-width="2"/>
<rect x="1492.35" y="87.5" width="9" height="61.2" rx="3" ry="3" fill="#fdfd00" stroke="#a9a400" stroke-width="1.3"/>
<line x1="1493.15" y1="118.1" x2="1500.55" y2="118.1" stroke="#f08a00" stroke-width="2"/>
<rect x="1504.42" y="87.5" width="9" height="61.2" rx="3" ry="3" fill="#fdfd00" stroke="#a9a400" stroke-width="1.3"/>
<line x1="1505.22" y1="118.1" x2="1512.62" y2="118.1" stroke="#f08a00" stroke-width="2"/>
<rect x="1516.49" y="87.5" width="9" height="61.2" rx="3" ry="3" fill="#fdfd00" stroke="#a9a400" stroke-width="1.3"/>
<line x1="1517.29" y1="118.1" x2="1524.69" y2="118.1" stroke="#f08a00" stroke-width="2"/>
<rect x="1528.55" y="97.7" width="9" height="51" rx="3" ry="3" fill="#fdfd00" stroke="#a9a400" stroke-width="1.3"/>
<line x1="1529.35" y1="128.3" x2="1536.75" y2="128.3" stroke="#f08a00" stroke-width="2"/>
<rect x="1540.62" y="97.7" width="9" height="51" rx="3" ry="3" fill="#fdfd00" stroke="#a9a400" stroke-width="1.3"/>
<line x1="1541.42" y1="128.3" x2="1548.82" y2="128.3" stroke="#f08a00" stroke-width="2"/>
<rect x="1552.69" y="97.7" width="9" height="61.2" rx="3" ry="3" fill="#fdfd00" stroke="#a9a400" stroke-width="1.3"/>
<line x1="1553.49" y1="128.3" x2="1560.89" y2="128.3" stroke="#f08a00" stroke-width="2"/>
<rect x="1564.76" y="97.7" width="9" height="61.2" rx="3" ry="3" fill="#fdfd00" stroke="#a9a400" stroke-width="1.3"/>
<line x1="1565.56" y1="138.5" x2="1572.96" y2="138.5" stroke="#f08a00" stroke-width="2"/>
<rect x="1576.83" y="97.7" width="9" height="71.4" rx="3" ry="3" fill="#fdfd00" stroke="#a9a400" stroke-width="1.3"/>
<line x1="1577.63" y1="138.5" x2="1585.03" y2="138.5" stroke="#f08a00" stroke-width="2"/>
<rect x="1588.9" y="97.7" width="9" height="71.4" rx="3" ry="3" fill="#fdfd00" stroke="#a9a400" stroke-width="1.3"/>
<line x1="1589.7" y1="138.5" x2="1597.1" y2="138.5" stroke="#f08a00" stroke-width="2"/>
<rect x="1600.97" y="118.1" width="9" height="61.2" rx="3" ry="3" fill="#fdfd00" stroke="#a9a400" stroke-width="1.3"/>
<line x1="1601.77" y1="138.5" x2="1609.17" y2="138.5" stroke="#f08a00" stroke-width="2"/>
<path d="M1002.03 167.06 L1014.1 166.04 L1026.17 165.02 L1038.24 131.36 L1050.31 131.36 L1062.38 131.36 L1074.45 131.36 L1086.51 131.36 L1098.58 116.06 L1110.65 115.04 L1122.72 116.06 L1134.79 117.08 L1146.86 119.12 L1158.93 114.02 L1171 110.96 L1183.06 110.96 L1195.13 110.96 L1207.2 110.96 L1219.27 110.96 L1231.34 110.96 L1243.41 111.98 L1255.48 114.02 L1267.54 118.1 L1279.61 123.2 L1291.68 124.22 L1303.75 123.2 L1315.82 127.28 L1327.89 128.81 L1339.96 128.81 L1352.02 132.89 L1364.09 129.32 L1376.16 128.81 L1388.23 129.32 L1400.3 128.81 L1412.37 128.3 L1424.44 128.3 L1436.5 129.32 L1448.57 130.34 L1460.64 134.42 L1472.71 135.44 L1484.78 135.44 L1496.85 135.44 L1508.92 136.46 L1520.99 137.48 L1533.05 140.54 L1545.12 143.6 L1557.19 146.66 L1569.26 151.76 L1581.33 156.86 L1593.4 160.94 L1605.47 174.2" fill="none" stroke="#4a6fb0" stroke-width="1.3" stroke-linejoin="round" opacity="0.85"/>
<text x="988.5" y="95.3" font-family="'Liberation Serif', serif" font-size="28" fill="#000" text-anchor="end" font-weight="bold">40</text>
<text x="988.5" y="199" font-family="'Liberation Serif', serif" font-size="28" fill="#000" text-anchor="end" font-weight="bold">30</text>
<text x="988.5" y="298.7" font-family="'Liberation Serif', serif" font-size="28" fill="#000" text-anchor="end" font-weight="bold">20</text>
<text x="988.5" y="404.6" font-family="'Liberation Serif', serif" font-size="28" fill="#000" text-anchor="end" font-weight="bold">10</text>
<text x="988.5" y="499.3" font-family="'Liberation Serif', serif" font-size="28" fill="#000" text-anchor="end" font-weight="bold">0</text>
<text x="1000.55" y="521" font-family="'Liberation Serif', serif" font-size="28" fill="#000" text-anchor="middle" font-weight="bold">1</text>
<text x="1119.35" y="521" font-family="'Liberation Serif', serif" font-size="28" fill="#000" text-anchor="middle" font-weight="bold">11</text>
<text x="1241.1" y="521" font-family="'Liberation Serif', serif" font-size="28" fill="#000" text-anchor="middle" font-weight="bold">21</text>
<text x="1363" y="521" font-family="'Liberation Serif', serif" font-size="28" fill="#000" text-anchor="middle" font-weight="bold">31</text>
<text x="1484.2" y="521" font-family="'Liberation Serif', serif" font-size="28" fill="#000" text-anchor="middle" font-weight="bold">41</text>
<text x="1605.75" y="521" font-family="'Liberation Serif', serif" font-size="28" fill="#000" text-anchor="middle" font-weight="bold">51</text>
<text x="1187" y="550.5" font-family="'Liberation Serif', serif" font-size="28" fill="#000" textLength="244" lengthAdjust="spacingAndGlyphs" font-weight="bold">Position in read (bp)</text>
</g>
<g id="panel-d">
<text x="937" y="737.5" font-family="'Liberation Serif', serif" font-size="60" fill="#000" font-weight="bold">d</text>
<ellipse cx="1337.2" cy="978.2" rx="146.6" ry="150.8" fill="#ba55d3"/>
<path d="M1337.2 978.2 L1337.2 827.4 A146.6 150.8 0 0 1 1355.94 828.64 Z" fill="#0000cd" stroke="#0000cd" stroke-width="0.6"/>
<path d="M1337.2 978.2 L1355.94 828.64 A146.6 150.8 0 0 1 1366.93 830.53 Z" fill="#cdcd00" stroke="#cdcd00" stroke-width="0.6"/>
<path d="M1337.2 978.2 L1366.93 830.53 A146.6 150.8 0 0 1 1413.72 849.57 Z" fill="#00c800" stroke="#00c800" stroke-width="0.6"/>
<path d="M1337.2 978.2 L1413.72 849.57 A146.6 150.8 0 0 1 1448.44 879.98 Z" fill="#7a009b" stroke="#7a009b" stroke-width="0.6"/>
<path d="M1337.2 978.2 L1448.44 879.98 A146.6 150.8 0 0 1 1449.69 881.49 Z" fill="#ff2a2a" stroke="#ff2a2a" stroke-width="0.6"/>
<path d="M1337.2 978.2 L1449.69 881.49 A146.6 150.8 0 0 1 1450.16 882.08 Z" fill="#ffff00" stroke="#ffff00" stroke-width="0.6"/>
<path d="M1337.2 978.2 L1450.16 882.08 A146.6 150.8 0 0 1 1426.32 1097.93 Z" fill="#00c47a" stroke="#00c47a" stroke-width="0.6"/>
<path d="M1337.2 978.2 L1426.32 1097.93 A146.6 150.8 0 1 1 1337.2 827.4 Z" fill="#ba55d3" stroke="#ba55d3" stroke-width="0.6"/>
<ellipse cx="1337.2" cy="978.2" rx="146.6" ry="150.8" fill="none" stroke="#14001c" stroke-width="1.4"/>
<line x1="1304.7" y1="809" x2="1345" y2="828.2" stroke="#111" stroke-width="1.6"/>
<line x1="1362.3" y1="793.7" x2="1362.3" y2="829.2" stroke="#111" stroke-width="1.6"/>
<line x1="1412" y1="822.5" x2="1392" y2="836.9" stroke="#111" stroke-width="1.6"/>
<line x1="1442.8" y1="852.2" x2="1428.4" y2="857.4" stroke="#111" stroke-width="1.6"/>
<line x1="1479.3" y1="876.2" x2="1446.7" y2="879" stroke="#111" stroke-width="1.6"/>
<line x1="1478.3" y1="904.6" x2="1448.6" y2="883" stroke="#111" stroke-width="1.6"/>
<text x="1256.7" y="806.2" font-family="'Liberation Serif', serif" font-size="30.5" fill="#000" stroke="#000" stroke-width="0.6" textLength="88.3" lengthAdjust="spacing">2.04%</text>
<text x="1346" y="786" font-family="'Liberation Serif', serif" font-size="30.5" fill="#000" stroke="#000" stroke-width="0.6" textLength="86.3" lengthAdjust="spacing">1.21%</text>
<text x="1393" y="819.6" font-family="'Liberation Serif', serif" font-size="30.5" fill="#000" stroke="#000" stroke-width="0.6" textLength="87.2" lengthAdjust="spacing">5.49%</text>
<text x="1443.8" y="851.3" font-family="'Liberation Serif', serif" font-size="30.5" fill="#000" stroke="#000" stroke-width="0.6" textLength="88.2" lengthAdjust="spacing">4.97%</text>
<text x="1481.2" y="885.8" font-family="'Liberation Serif', serif" font-size="30.5" fill="#000" stroke="#000" stroke-width="0.6" textLength="88.2" lengthAdjust="spacing">0.21%</text>
<text x="1481.2" y="919.4" font-family="'Liberation Serif', serif" font-size="30.5" fill="#000" stroke="#000" stroke-width="0.6" textLength="88.2" lengthAdjust="spacing">0.08%</text>
<text x="1370" y="987.5" font-family="'Liberation Serif', serif" font-size="32" fill="#000" textLength="88.2" lengthAdjust="spacingAndGlyphs" font-weight="bold">25.6%</text>
<text x="1211.7" y="999.8" font-family="'Liberation Serif', serif" font-size="32" fill="#000" textLength="105.5" lengthAdjust="spacingAndGlyphs" font-weight="bold">60.40%</text>
<rect x="1004.8" y="785.2" width="30.8" height="24.6" fill="#0000cd" stroke="#1c1c1c" stroke-width="1.8"/>
<rect x="1004.8" y="853.2" width="30.8" height="24.2" fill="#cdcd00" stroke="#1c1c1c" stroke-width="1.8"/>
<rect x="1004.8" y="906" width="30.8" height="24.6" fill="#00c800" stroke="#1c1c1c" stroke-width="1.8"/>
<rect x="1004.8" y="941.4" width="30.8" height="24.6" fill="#7a009b" stroke="#1c1c1c" stroke-width="1.8"/>
<rect x="1004.8" y="976" width="30.8" height="23.8" fill="#ff0000" stroke="#1c1c1c" stroke-width="1.8"/>
<rect x="1004.8" y="1011.1" width="30.8" height="24" fill="#ffff00" stroke="#1c1c1c" stroke-width="1.8"/>
<rect x="1004.8" y="1045" width="30.8" height="24.6" fill="#00c47a" stroke="#1c1c1c" stroke-width="1.8"/>
<rect x="1004.8" y="1080.5" width="30.8" height="24.6" fill="#ba55d3" stroke="#1c1c1c" stroke-width="1.8"/>
<text x="1054.3" y="787.8" font-family="'Liberation Serif', serif" font-size="32" fill="#000" textLength="99" lengthAdjust="spacingAndGlyphs" font-weight="bold">Known</text>
<text x="1054.3" y="826.2" font-family="'Liberation Serif', serif" font-size="32" fill="#000" textLength="174.6" lengthAdjust="spacingAndGlyphs" font-weight="bold">miRBase DB</text>
<text x="1054.3" y="856" font-family="'Liberation Serif', serif" font-size="32" fill="#000" textLength="140" lengthAdjust="spacingAndGlyphs" font-weight="bold">Candidate</text>
<text x="1054.3" y="893.4" font-family="'Liberation Serif', serif" font-size="32" fill="#000" textLength="100" lengthAdjust="spacingAndGlyphs" font-weight="bold">miRNA</text>
<text x="1054.3" y="928.8" font-family="'Liberation Serif', serif" font-size="32" fill="#000" textLength="78" lengthAdjust="spacingAndGlyphs" font-weight="bold">rRNA</text>
<text x="1054.3" y="962.4" font-family="'Liberation Serif', serif" font-size="32" fill="#000" textLength="75" lengthAdjust="spacingAndGlyphs" font-weight="bold">tRNA</text>
<text x="1054.3" y="997.8" font-family="'Liberation Serif', serif" font-size="32" fill="#000" textLength="95.2" lengthAdjust="spacingAndGlyphs" font-weight="bold">snRNA</text>
<text x="1054.3" y="1032" font-family="'Liberation Serif', serif" font-size="32" fill="#000" textLength="111.5" lengthAdjust="spacingAndGlyphs" font-weight="bold">snoRNA</text>
<text x="1054.3" y="1066.5" font-family="'Liberation Serif', serif" font-size="32" fill="#000" textLength="112.3" lengthAdjust="spacingAndGlyphs" font-weight="bold">Genome</text>
<text x="1054.3" y="1101.4" font-family="'Liberation Serif', serif" font-size="32" fill="#000" textLength="131.5" lengthAdjust="spacingAndGlyphs" font-weight="bold">Unknown</text>
</g>
<g id="panel-e">
<text x="1713" y="56.5" font-family="'Liberation Serif', serif" font-size="60" fill="#000" font-weight="bold">e</text>
<circle cx="1838.1" cy="232" r="109.3" fill="#0000ff" fill-opacity="0.5"/>
<circle cx="1981" cy="232" r="109.3" fill="#ffff00" fill-opacity="0.5"/>
<circle cx="1909.1" cy="355" r="109.3" fill="#00ff00" fill-opacity="0.5"/>
<circle cx="1838.1" cy="232" r="109.3" fill="none" stroke="#000" stroke-opacity="0.88" stroke-width="2.3"/>
<circle cx="1981" cy="232" r="109.3" fill="none" stroke="#000" stroke-opacity="0.88" stroke-width="2.3"/>
<circle cx="1909.1" cy="355" r="109.3" fill="none" stroke="#000" stroke-opacity="0.88" stroke-width="2.3"/>
<text x="1814" y="217" font-family="'Liberation Sans', sans-serif" font-size="30" fill="#050505" text-anchor="middle" stroke="#050505" stroke-width="0.55">32</text>
<text x="1909" y="217" font-family="'Liberation Sans', sans-serif" font-size="30" fill="#050505" text-anchor="middle" stroke="#050505" stroke-width="0.55">30</text>
<text x="1987" y="217" font-family="'Liberation Sans', sans-serif" font-size="30" fill="#050505" textLength="28" lengthAdjust="spacingAndGlyphs" stroke="#050505" stroke-width="0.55">41</text>
<text x="1887.25" y="280.9" font-family="'Liberation Sans', sans-serif" font-size="30" fill="#050505" textLength="41.5" lengthAdjust="spacingAndGlyphs" stroke="#050505" stroke-width="0.55">141</text>
<text x="1833.95" y="313.5" font-family="'Liberation Sans', sans-serif" font-size="30" fill="#050505" textLength="27.5" lengthAdjust="spacingAndGlyphs" stroke="#050505" stroke-width="0.55">21</text>
<text x="1956.5" y="313.5" font-family="'Liberation Sans', sans-serif" font-size="30" fill="#050505" textLength="28" lengthAdjust="spacingAndGlyphs" stroke="#050505" stroke-width="0.55">16</text>
<text x="1909" y="387.2" font-family="'Liberation Sans', sans-serif" font-size="30" fill="#050505" text-anchor="middle" stroke="#050505" stroke-width="0.55">38</text>
<text x="1747" y="99.8" font-family="'Liberation Serif', serif" font-size="36" fill="#4a86d4" textLength="138" lengthAdjust="spacingAndGlyphs" font-weight="bold">Sample 1</text>
<text x="1942.7" y="103.6" font-family="'Liberation Serif', serif" font-size="36" fill="#f9b31e" textLength="141" lengthAdjust="spacingAndGlyphs" font-weight="bold">Sample 2</text>
<text x="1843" y="514.4" font-family="'Liberation Serif', serif" font-size="36" fill="#0aa755" textLength="141" lengthAdjust="spacingAndGlyphs" font-weight="bold">Sample 3</text>
</g>
<g id="panel-f">
<text x="1709" y="737" font-family="'Liberation Serif', serif" font-size="60" fill="#000" font-weight="bold">f</text>
<circle cx="1831.1" cy="912.1" r="109.3" fill="#0000ff" fill-opacity="0.5"/>
<circle cx="1974" cy="912.1" r="109.3" fill="#ffff00" fill-opacity="0.5"/>
<circle cx="1902.7" cy="1035.3" r="109.3" fill="#00ff00" fill-opacity="0.5"/>
<circle cx="1831.1" cy="912.1" r="109.3" fill="none" stroke="#000" stroke-opacity="0.88" stroke-width="2.3"/>
<circle cx="1974" cy="912.1" r="109.3" fill="none" stroke="#000" stroke-opacity="0.88" stroke-width="2.3"/>
<circle cx="1902.7" cy="1035.3" r="109.3" fill="none" stroke="#000" stroke-opacity="0.88" stroke-width="2.3"/>
<text x="1807.4" y="897.1" font-family="'Liberation Sans', sans-serif" font-size="30" fill="#050505" text-anchor="middle" stroke="#050505" stroke-width="0.55">52</text>
<text x="1902.4" y="897.1" font-family="'Liberation Sans', sans-serif" font-size="30" fill="#050505" text-anchor="middle" stroke="#050505" stroke-width="0.55">8</text>
<text x="1981.4" y="897.1" font-family="'Liberation Sans', sans-serif" font-size="30" fill="#050505" textLength="28" lengthAdjust="spacingAndGlyphs" stroke="#050505" stroke-width="0.55">31</text>
<text x="1902.5" y="960.2" font-family="'Liberation Sans', sans-serif" font-size="30" fill="#050505" text-anchor="middle" stroke="#050505" stroke-width="0.55">25</text>
<text x="1830.3" y="993.2" font-family="'Liberation Sans', sans-serif" font-size="30" fill="#050505" textLength="28" lengthAdjust="spacingAndGlyphs" stroke="#050505" stroke-width="0.55">14</text>
<text x="1961.3" y="993.2" font-family="'Liberation Sans', sans-serif" font-size="30" fill="#050505" text-anchor="middle" stroke="#050505" stroke-width="0.55">2</text>
<text x="1902.4" y="1066.7" font-family="'Liberation Sans', sans-serif" font-size="30" fill="#050505" text-anchor="middle" stroke="#050505" stroke-width="0.55">33</text>
<text x="1726" y="780.2" font-family="'Liberation Serif', serif" font-size="36" fill="#4a86d4" textLength="140" lengthAdjust="spacingAndGlyphs" font-weight="bold">Sample 1</text>
<text x="1923.5" y="784" font-family="'Liberation Serif', serif" font-size="36" fill="#f9b31e" textLength="142" lengthAdjust="spacingAndGlyphs" font-weight="bold">Sample 2</text>
<text x="1835.3" y="1195.6" font-family="'Liberation Serif', serif" font-size="36" fill="#0aa755" textLength="141" lengthAdjust="spacingAndGlyphs" font-weight="bold">Sample 3</text>
</g>
</svg>
</body>
</html>
